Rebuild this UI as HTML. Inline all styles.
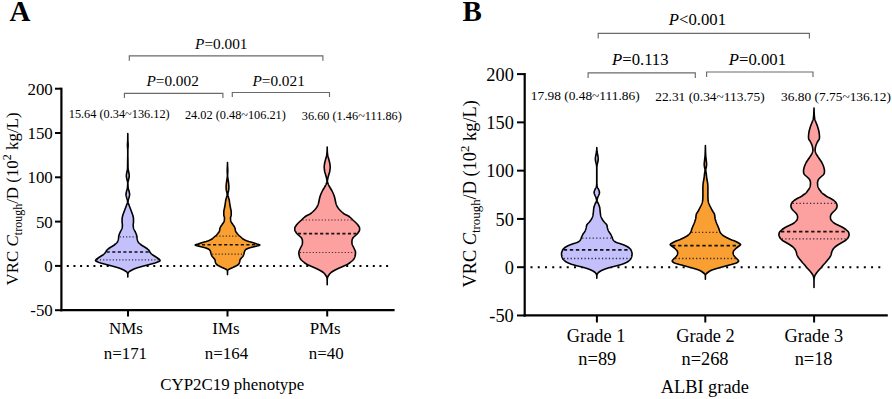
<!DOCTYPE html>
<html><head><meta charset="utf-8"><style>
html,body{margin:0;padding:0;background:#fff;}
body{width:892px;height:399px;overflow:hidden;}
svg{display:block;font-family:"Liberation Serif", serif;}
</style></head><body>
<svg width="892" height="399" viewBox="0 0 892 399">
<rect width="892" height="399" fill="#fff"/>
<line x1="66.80" y1="265.90" x2="388.10" y2="265.90" stroke="#000" stroke-width="2.0" stroke-dasharray="2.0 4.652"/><line x1="530.50" y1="267.30" x2="880.30" y2="267.30" stroke="#000" stroke-width="2.0" stroke-dasharray="2.0 5.246"/>
<path d="M127.80 133.50 L127.81 134.00 L127.82 134.50 L127.82 135.00 L127.83 135.50 L127.84 136.00 L127.84 136.50 L127.85 137.00 L127.86 137.50 L127.86 138.00 L127.86 138.50 L127.87 139.00 L127.87 139.50 L127.88 140.00 L127.89 140.50 L127.92 141.00 L127.95 141.50 L127.99 142.00 L128.02 142.50 L128.06 143.00 L128.10 143.50 L128.12 144.00 L128.14 144.50 L128.15 145.00 L128.14 145.50 L128.12 146.00 L128.10 146.50 L128.06 147.00 L128.02 147.50 L127.98 148.00 L127.95 148.50 L127.91 149.00 L127.89 149.50 L127.88 150.00 L127.87 150.50 L127.87 151.00 L127.87 151.50 L127.86 152.00 L127.86 152.50 L127.86 153.00 L127.85 153.50 L127.85 154.00 L127.85 154.50 L127.85 155.00 L127.85 155.50 L127.86 156.00 L127.87 156.50 L127.88 157.00 L127.89 157.50 L127.91 158.00 L127.92 158.50 L127.93 159.00 L127.94 159.50 L127.95 160.00 L127.96 160.50 L127.96 161.00 L127.97 161.50 L127.97 162.00 L127.97 162.50 L127.98 163.00 L127.98 163.50 L127.99 164.00 L127.99 164.50 L128.00 165.00 L128.01 165.50 L128.02 166.00 L128.02 166.50 L128.03 167.00 L128.05 167.50 L128.06 168.00 L128.08 168.50 L128.10 169.00 L128.15 169.50 L128.23 170.00 L128.34 170.50 L128.46 171.00 L128.59 171.50 L128.71 172.00 L128.80 172.50 L128.88 173.00 L128.97 173.50 L129.05 174.00 L129.13 174.50 L129.19 175.00 L129.23 175.50 L129.25 176.00 L129.23 176.50 L129.16 177.00 L129.06 177.50 L128.95 178.00 L128.83 178.50 L128.71 179.00 L128.60 179.50 L128.49 180.00 L128.36 180.50 L128.23 181.00 L128.10 181.50 L128.00 182.00 L127.93 182.50 L127.90 183.00 L127.90 183.50 L127.92 184.00 L127.93 184.50 L127.96 185.00 L127.99 185.50 L128.02 186.00 L128.06 186.50 L128.10 187.00 L128.15 187.50 L128.20 188.00 L128.27 188.50 L128.39 189.00 L128.53 189.50 L128.68 190.00 L128.84 190.50 L128.98 191.00 L129.10 191.50 L129.21 192.00 L129.32 192.50 L129.43 193.00 L129.52 193.50 L129.58 194.00 L129.60 194.50 L129.57 195.00 L129.49 195.50 L129.38 196.00 L129.25 196.50 L129.12 197.00 L129.00 197.50 L128.87 198.00 L128.72 198.50 L128.55 199.00 L128.39 199.50 L128.24 200.00 L128.11 200.50 L128.03 201.00 L128.00 201.50 L128.04 202.00 L128.13 202.50 L128.27 203.00 L128.45 203.50 L128.64 204.00 L128.83 204.50 L129.00 205.00 L129.17 205.50 L129.35 206.00 L129.53 206.50 L129.72 207.00 L129.92 207.50 L130.12 208.00 L130.31 208.50 L130.50 209.00 L130.69 209.50 L130.88 210.00 L131.07 210.50 L131.26 211.00 L131.45 211.50 L131.64 212.00 L131.82 212.50 L132.00 213.00 L132.18 213.50 L132.37 214.00 L132.55 214.50 L132.72 215.00 L132.87 215.50 L133.00 216.00 L133.11 216.50 L133.23 217.00 L133.33 217.50 L133.42 218.00 L133.48 218.50 L133.50 219.00 L133.50 219.50 L133.50 220.00 L133.50 220.50 L133.50 221.00 L133.50 221.50 L133.50 222.00 L133.48 222.50 L133.42 223.00 L133.35 223.50 L133.28 224.00 L133.22 224.50 L133.20 225.00 L133.21 225.50 L133.24 226.00 L133.29 226.50 L133.35 227.00 L133.42 227.50 L133.50 228.00 L133.62 228.50 L133.81 229.00 L134.04 229.50 L134.29 230.00 L134.55 230.50 L134.80 231.00 L135.05 231.50 L135.32 232.00 L135.57 232.50 L135.80 233.00 L136.00 233.50 L136.20 234.00 L136.38 234.50 L136.55 235.00 L136.69 235.50 L136.80 236.00 L136.88 236.50 L136.95 237.00 L137.00 237.50 L137.05 238.00 L137.12 238.50 L137.20 239.00 L137.30 239.50 L137.43 240.00 L137.58 240.50 L137.76 241.00 L137.96 241.50 L138.20 242.00 L138.53 242.50 L138.97 243.00 L139.51 243.50 L140.12 244.00 L140.76 244.50 L141.40 245.00 L142.09 245.50 L142.88 246.00 L143.71 246.50 L144.55 247.00 L145.36 247.50 L146.10 248.00 L146.80 248.50 L147.48 249.00 L148.10 249.50 L148.60 250.00 L148.98 250.50 L149.28 251.00 L149.58 251.50 L149.90 252.00 L150.26 252.50 L150.62 253.00 L151.03 253.50 L151.50 254.00 L152.10 254.50 L152.84 255.00 L153.63 255.50 L154.40 256.00 L155.17 256.50 L155.95 257.00 L156.71 257.50 L157.40 258.00 L158.09 258.50 L158.81 259.00 L159.45 259.50 L159.92 260.00 L160.10 260.50 L159.75 261.00 L158.86 261.50 L157.66 262.00 L156.40 262.50 L154.97 263.00 L153.21 263.50 L151.29 264.00 L149.40 264.50 L147.52 265.00 L145.56 265.50 L143.63 266.00 L141.80 266.50 L140.04 267.00 L138.31 267.50 L136.70 268.00 L135.30 268.50 L134.09 269.00 L133.00 269.50 L132.01 270.00 L131.10 270.50 L130.22 271.00 L129.41 271.50 L128.80 272.00 L128.38 272.50 L128.10 273.00 L127.93 273.50 L127.85 274.00 L127.83 274.50 L127.82 275.00 L127.81 275.50 L127.80 276.00 L127.80 276.50 L127.80 277.00 L127.80 276.50 L127.80 276.00 L127.79 275.50 L127.78 275.00 L127.77 274.50 L127.75 274.00 L127.67 273.50 L127.50 273.00 L127.22 272.50 L126.80 272.00 L126.19 271.50 L125.38 271.00 L124.50 270.50 L123.59 270.00 L122.60 269.50 L121.51 269.00 L120.30 268.50 L118.90 268.00 L117.29 267.50 L115.56 267.00 L113.80 266.50 L111.97 266.00 L110.04 265.50 L108.08 265.00 L106.20 264.50 L104.31 264.00 L102.39 263.50 L100.63 263.00 L99.20 262.50 L97.94 262.00 L96.74 261.50 L95.85 261.00 L95.50 260.50 L95.68 260.00 L96.15 259.50 L96.79 259.00 L97.51 258.50 L98.20 258.00 L98.89 257.50 L99.65 257.00 L100.43 256.50 L101.20 256.00 L101.97 255.50 L102.76 255.00 L103.50 254.50 L104.10 254.00 L104.57 253.50 L104.98 253.00 L105.34 252.50 L105.70 252.00 L106.02 251.50 L106.32 251.00 L106.62 250.50 L107.00 250.00 L107.50 249.50 L108.12 249.00 L108.80 248.50 L109.50 248.00 L110.24 247.50 L111.05 247.00 L111.89 246.50 L112.72 246.00 L113.51 245.50 L114.20 245.00 L114.84 244.50 L115.48 244.00 L116.09 243.50 L116.63 243.00 L117.07 242.50 L117.40 242.00 L117.64 241.50 L117.84 241.00 L118.02 240.50 L118.17 240.00 L118.30 239.50 L118.40 239.00 L118.48 238.50 L118.55 238.00 L118.60 237.50 L118.65 237.00 L118.72 236.50 L118.80 236.00 L118.91 235.50 L119.05 235.00 L119.22 234.50 L119.40 234.00 L119.60 233.50 L119.80 233.00 L120.03 232.50 L120.28 232.00 L120.55 231.50 L120.80 231.00 L121.05 230.50 L121.31 230.00 L121.56 229.50 L121.79 229.00 L121.98 228.50 L122.10 228.00 L122.18 227.50 L122.25 227.00 L122.31 226.50 L122.36 226.00 L122.39 225.50 L122.40 225.00 L122.38 224.50 L122.32 224.00 L122.25 223.50 L122.18 223.00 L122.12 222.50 L122.10 222.00 L122.10 221.50 L122.10 221.00 L122.10 220.50 L122.10 220.00 L122.10 219.50 L122.10 219.00 L122.12 218.50 L122.18 218.00 L122.27 217.50 L122.37 217.00 L122.49 216.50 L122.60 216.00 L122.73 215.50 L122.88 215.00 L123.05 214.50 L123.23 214.00 L123.42 213.50 L123.60 213.00 L123.78 212.50 L123.96 212.00 L124.15 211.50 L124.34 211.00 L124.53 210.50 L124.72 210.00 L124.91 209.50 L125.10 209.00 L125.29 208.50 L125.48 208.00 L125.68 207.50 L125.88 207.00 L126.07 206.50 L126.25 206.00 L126.43 205.50 L126.60 205.00 L126.77 204.50 L126.96 204.00 L127.15 203.50 L127.33 203.00 L127.47 202.50 L127.56 202.00 L127.60 201.50 L127.57 201.00 L127.49 200.50 L127.36 200.00 L127.21 199.50 L127.05 199.00 L126.88 198.50 L126.73 198.00 L126.60 197.50 L126.48 197.00 L126.35 196.50 L126.22 196.00 L126.11 195.50 L126.03 195.00 L126.00 194.50 L126.02 194.00 L126.08 193.50 L126.17 193.00 L126.28 192.50 L126.39 192.00 L126.50 191.50 L126.62 191.00 L126.76 190.50 L126.92 190.00 L127.07 189.50 L127.21 189.00 L127.33 188.50 L127.40 188.00 L127.45 187.50 L127.50 187.00 L127.54 186.50 L127.58 186.00 L127.61 185.50 L127.64 185.00 L127.67 184.50 L127.68 184.00 L127.70 183.50 L127.70 183.00 L127.67 182.50 L127.60 182.00 L127.50 181.50 L127.37 181.00 L127.24 180.50 L127.11 180.00 L127.00 179.50 L126.89 179.00 L126.77 178.50 L126.65 178.00 L126.54 177.50 L126.44 177.00 L126.37 176.50 L126.35 176.00 L126.37 175.50 L126.41 175.00 L126.47 174.50 L126.55 174.00 L126.63 173.50 L126.72 173.00 L126.80 172.50 L126.89 172.00 L127.01 171.50 L127.14 171.00 L127.26 170.50 L127.37 170.00 L127.45 169.50 L127.50 169.00 L127.52 168.50 L127.54 168.00 L127.55 167.50 L127.57 167.00 L127.58 166.50 L127.58 166.00 L127.59 165.50 L127.60 165.00 L127.61 164.50 L127.61 164.00 L127.62 163.50 L127.62 163.00 L127.63 162.50 L127.63 162.00 L127.63 161.50 L127.64 161.00 L127.64 160.50 L127.65 160.00 L127.66 159.50 L127.67 159.00 L127.68 158.50 L127.69 158.00 L127.71 157.50 L127.72 157.00 L127.73 156.50 L127.74 156.00 L127.75 155.50 L127.75 155.00 L127.75 154.50 L127.75 154.00 L127.75 153.50 L127.74 153.00 L127.74 152.50 L127.74 152.00 L127.73 151.50 L127.73 151.00 L127.73 150.50 L127.72 150.00 L127.71 149.50 L127.69 149.00 L127.65 148.50 L127.62 148.00 L127.58 147.50 L127.54 147.00 L127.50 146.50 L127.48 146.00 L127.46 145.50 L127.45 145.00 L127.46 144.50 L127.48 144.00 L127.50 143.50 L127.54 143.00 L127.58 142.50 L127.61 142.00 L127.65 141.50 L127.68 141.00 L127.71 140.50 L127.72 140.00 L127.73 139.50 L127.73 139.00 L127.74 138.50 L127.74 138.00 L127.74 137.50 L127.75 137.00 L127.76 136.50 L127.76 136.00 L127.77 135.50 L127.78 135.00 L127.78 134.50 L127.79 134.00Z" fill="#c3c0fc" stroke="none"/>
<line x1="119.68" y1="236.80" x2="135.92" y2="236.80" stroke="#1c1c30" stroke-opacity="0.9" stroke-width="1.20" stroke-dasharray="1.15 2.05"/>
<line x1="106.70" y1="252.00" x2="148.90" y2="252.00" stroke="#111" stroke-width="1.60" stroke-dasharray="3.10 2.45"/>
<line x1="96.75" y1="259.90" x2="158.85" y2="259.90" stroke="#1c1c30" stroke-opacity="0.9" stroke-width="1.20" stroke-dasharray="1.15 2.05"/>
<path d="M127.80 133.50 L127.81 134.00 L127.82 134.50 L127.82 135.00 L127.83 135.50 L127.84 136.00 L127.84 136.50 L127.85 137.00 L127.86 137.50 L127.86 138.00 L127.86 138.50 L127.87 139.00 L127.87 139.50 L127.88 140.00 L127.89 140.50 L127.92 141.00 L127.95 141.50 L127.99 142.00 L128.02 142.50 L128.06 143.00 L128.10 143.50 L128.12 144.00 L128.14 144.50 L128.15 145.00 L128.14 145.50 L128.12 146.00 L128.10 146.50 L128.06 147.00 L128.02 147.50 L127.98 148.00 L127.95 148.50 L127.91 149.00 L127.89 149.50 L127.88 150.00 L127.87 150.50 L127.87 151.00 L127.87 151.50 L127.86 152.00 L127.86 152.50 L127.86 153.00 L127.85 153.50 L127.85 154.00 L127.85 154.50 L127.85 155.00 L127.85 155.50 L127.86 156.00 L127.87 156.50 L127.88 157.00 L127.89 157.50 L127.91 158.00 L127.92 158.50 L127.93 159.00 L127.94 159.50 L127.95 160.00 L127.96 160.50 L127.96 161.00 L127.97 161.50 L127.97 162.00 L127.97 162.50 L127.98 163.00 L127.98 163.50 L127.99 164.00 L127.99 164.50 L128.00 165.00 L128.01 165.50 L128.02 166.00 L128.02 166.50 L128.03 167.00 L128.05 167.50 L128.06 168.00 L128.08 168.50 L128.10 169.00 L128.15 169.50 L128.23 170.00 L128.34 170.50 L128.46 171.00 L128.59 171.50 L128.71 172.00 L128.80 172.50 L128.88 173.00 L128.97 173.50 L129.05 174.00 L129.13 174.50 L129.19 175.00 L129.23 175.50 L129.25 176.00 L129.23 176.50 L129.16 177.00 L129.06 177.50 L128.95 178.00 L128.83 178.50 L128.71 179.00 L128.60 179.50 L128.49 180.00 L128.36 180.50 L128.23 181.00 L128.10 181.50 L128.00 182.00 L127.93 182.50 L127.90 183.00 L127.90 183.50 L127.92 184.00 L127.93 184.50 L127.96 185.00 L127.99 185.50 L128.02 186.00 L128.06 186.50 L128.10 187.00 L128.15 187.50 L128.20 188.00 L128.27 188.50 L128.39 189.00 L128.53 189.50 L128.68 190.00 L128.84 190.50 L128.98 191.00 L129.10 191.50 L129.21 192.00 L129.32 192.50 L129.43 193.00 L129.52 193.50 L129.58 194.00 L129.60 194.50 L129.57 195.00 L129.49 195.50 L129.38 196.00 L129.25 196.50 L129.12 197.00 L129.00 197.50 L128.87 198.00 L128.72 198.50 L128.55 199.00 L128.39 199.50 L128.24 200.00 L128.11 200.50 L128.03 201.00 L128.00 201.50 L128.04 202.00 L128.13 202.50 L128.27 203.00 L128.45 203.50 L128.64 204.00 L128.83 204.50 L129.00 205.00 L129.17 205.50 L129.35 206.00 L129.53 206.50 L129.72 207.00 L129.92 207.50 L130.12 208.00 L130.31 208.50 L130.50 209.00 L130.69 209.50 L130.88 210.00 L131.07 210.50 L131.26 211.00 L131.45 211.50 L131.64 212.00 L131.82 212.50 L132.00 213.00 L132.18 213.50 L132.37 214.00 L132.55 214.50 L132.72 215.00 L132.87 215.50 L133.00 216.00 L133.11 216.50 L133.23 217.00 L133.33 217.50 L133.42 218.00 L133.48 218.50 L133.50 219.00 L133.50 219.50 L133.50 220.00 L133.50 220.50 L133.50 221.00 L133.50 221.50 L133.50 222.00 L133.48 222.50 L133.42 223.00 L133.35 223.50 L133.28 224.00 L133.22 224.50 L133.20 225.00 L133.21 225.50 L133.24 226.00 L133.29 226.50 L133.35 227.00 L133.42 227.50 L133.50 228.00 L133.62 228.50 L133.81 229.00 L134.04 229.50 L134.29 230.00 L134.55 230.50 L134.80 231.00 L135.05 231.50 L135.32 232.00 L135.57 232.50 L135.80 233.00 L136.00 233.50 L136.20 234.00 L136.38 234.50 L136.55 235.00 L136.69 235.50 L136.80 236.00 L136.88 236.50 L136.95 237.00 L137.00 237.50 L137.05 238.00 L137.12 238.50 L137.20 239.00 L137.30 239.50 L137.43 240.00 L137.58 240.50 L137.76 241.00 L137.96 241.50 L138.20 242.00 L138.53 242.50 L138.97 243.00 L139.51 243.50 L140.12 244.00 L140.76 244.50 L141.40 245.00 L142.09 245.50 L142.88 246.00 L143.71 246.50 L144.55 247.00 L145.36 247.50 L146.10 248.00 L146.80 248.50 L147.48 249.00 L148.10 249.50 L148.60 250.00 L148.98 250.50 L149.28 251.00 L149.58 251.50 L149.90 252.00 L150.26 252.50 L150.62 253.00 L151.03 253.50 L151.50 254.00 L152.10 254.50 L152.84 255.00 L153.63 255.50 L154.40 256.00 L155.17 256.50 L155.95 257.00 L156.71 257.50 L157.40 258.00 L158.09 258.50 L158.81 259.00 L159.45 259.50 L159.92 260.00 L160.10 260.50 L159.75 261.00 L158.86 261.50 L157.66 262.00 L156.40 262.50 L154.97 263.00 L153.21 263.50 L151.29 264.00 L149.40 264.50 L147.52 265.00 L145.56 265.50 L143.63 266.00 L141.80 266.50 L140.04 267.00 L138.31 267.50 L136.70 268.00 L135.30 268.50 L134.09 269.00 L133.00 269.50 L132.01 270.00 L131.10 270.50 L130.22 271.00 L129.41 271.50 L128.80 272.00 L128.38 272.50 L128.10 273.00 L127.93 273.50 L127.85 274.00 L127.83 274.50 L127.82 275.00 L127.81 275.50 L127.80 276.00 L127.80 276.50 L127.80 277.00 L127.80 276.50 L127.80 276.00 L127.79 275.50 L127.78 275.00 L127.77 274.50 L127.75 274.00 L127.67 273.50 L127.50 273.00 L127.22 272.50 L126.80 272.00 L126.19 271.50 L125.38 271.00 L124.50 270.50 L123.59 270.00 L122.60 269.50 L121.51 269.00 L120.30 268.50 L118.90 268.00 L117.29 267.50 L115.56 267.00 L113.80 266.50 L111.97 266.00 L110.04 265.50 L108.08 265.00 L106.20 264.50 L104.31 264.00 L102.39 263.50 L100.63 263.00 L99.20 262.50 L97.94 262.00 L96.74 261.50 L95.85 261.00 L95.50 260.50 L95.68 260.00 L96.15 259.50 L96.79 259.00 L97.51 258.50 L98.20 258.00 L98.89 257.50 L99.65 257.00 L100.43 256.50 L101.20 256.00 L101.97 255.50 L102.76 255.00 L103.50 254.50 L104.10 254.00 L104.57 253.50 L104.98 253.00 L105.34 252.50 L105.70 252.00 L106.02 251.50 L106.32 251.00 L106.62 250.50 L107.00 250.00 L107.50 249.50 L108.12 249.00 L108.80 248.50 L109.50 248.00 L110.24 247.50 L111.05 247.00 L111.89 246.50 L112.72 246.00 L113.51 245.50 L114.20 245.00 L114.84 244.50 L115.48 244.00 L116.09 243.50 L116.63 243.00 L117.07 242.50 L117.40 242.00 L117.64 241.50 L117.84 241.00 L118.02 240.50 L118.17 240.00 L118.30 239.50 L118.40 239.00 L118.48 238.50 L118.55 238.00 L118.60 237.50 L118.65 237.00 L118.72 236.50 L118.80 236.00 L118.91 235.50 L119.05 235.00 L119.22 234.50 L119.40 234.00 L119.60 233.50 L119.80 233.00 L120.03 232.50 L120.28 232.00 L120.55 231.50 L120.80 231.00 L121.05 230.50 L121.31 230.00 L121.56 229.50 L121.79 229.00 L121.98 228.50 L122.10 228.00 L122.18 227.50 L122.25 227.00 L122.31 226.50 L122.36 226.00 L122.39 225.50 L122.40 225.00 L122.38 224.50 L122.32 224.00 L122.25 223.50 L122.18 223.00 L122.12 222.50 L122.10 222.00 L122.10 221.50 L122.10 221.00 L122.10 220.50 L122.10 220.00 L122.10 219.50 L122.10 219.00 L122.12 218.50 L122.18 218.00 L122.27 217.50 L122.37 217.00 L122.49 216.50 L122.60 216.00 L122.73 215.50 L122.88 215.00 L123.05 214.50 L123.23 214.00 L123.42 213.50 L123.60 213.00 L123.78 212.50 L123.96 212.00 L124.15 211.50 L124.34 211.00 L124.53 210.50 L124.72 210.00 L124.91 209.50 L125.10 209.00 L125.29 208.50 L125.48 208.00 L125.68 207.50 L125.88 207.00 L126.07 206.50 L126.25 206.00 L126.43 205.50 L126.60 205.00 L126.77 204.50 L126.96 204.00 L127.15 203.50 L127.33 203.00 L127.47 202.50 L127.56 202.00 L127.60 201.50 L127.57 201.00 L127.49 200.50 L127.36 200.00 L127.21 199.50 L127.05 199.00 L126.88 198.50 L126.73 198.00 L126.60 197.50 L126.48 197.00 L126.35 196.50 L126.22 196.00 L126.11 195.50 L126.03 195.00 L126.00 194.50 L126.02 194.00 L126.08 193.50 L126.17 193.00 L126.28 192.50 L126.39 192.00 L126.50 191.50 L126.62 191.00 L126.76 190.50 L126.92 190.00 L127.07 189.50 L127.21 189.00 L127.33 188.50 L127.40 188.00 L127.45 187.50 L127.50 187.00 L127.54 186.50 L127.58 186.00 L127.61 185.50 L127.64 185.00 L127.67 184.50 L127.68 184.00 L127.70 183.50 L127.70 183.00 L127.67 182.50 L127.60 182.00 L127.50 181.50 L127.37 181.00 L127.24 180.50 L127.11 180.00 L127.00 179.50 L126.89 179.00 L126.77 178.50 L126.65 178.00 L126.54 177.50 L126.44 177.00 L126.37 176.50 L126.35 176.00 L126.37 175.50 L126.41 175.00 L126.47 174.50 L126.55 174.00 L126.63 173.50 L126.72 173.00 L126.80 172.50 L126.89 172.00 L127.01 171.50 L127.14 171.00 L127.26 170.50 L127.37 170.00 L127.45 169.50 L127.50 169.00 L127.52 168.50 L127.54 168.00 L127.55 167.50 L127.57 167.00 L127.58 166.50 L127.58 166.00 L127.59 165.50 L127.60 165.00 L127.61 164.50 L127.61 164.00 L127.62 163.50 L127.62 163.00 L127.63 162.50 L127.63 162.00 L127.63 161.50 L127.64 161.00 L127.64 160.50 L127.65 160.00 L127.66 159.50 L127.67 159.00 L127.68 158.50 L127.69 158.00 L127.71 157.50 L127.72 157.00 L127.73 156.50 L127.74 156.00 L127.75 155.50 L127.75 155.00 L127.75 154.50 L127.75 154.00 L127.75 153.50 L127.74 153.00 L127.74 152.50 L127.74 152.00 L127.73 151.50 L127.73 151.00 L127.73 150.50 L127.72 150.00 L127.71 149.50 L127.69 149.00 L127.65 148.50 L127.62 148.00 L127.58 147.50 L127.54 147.00 L127.50 146.50 L127.48 146.00 L127.46 145.50 L127.45 145.00 L127.46 144.50 L127.48 144.00 L127.50 143.50 L127.54 143.00 L127.58 142.50 L127.61 142.00 L127.65 141.50 L127.68 141.00 L127.71 140.50 L127.72 140.00 L127.73 139.50 L127.73 139.00 L127.74 138.50 L127.74 138.00 L127.74 137.50 L127.75 137.00 L127.76 136.50 L127.76 136.00 L127.77 135.50 L127.78 135.00 L127.78 134.50 L127.79 134.00Z" fill="none" stroke="#000" stroke-width="1.6" stroke-linejoin="round"/>
<path d="M227.50 162.50 L227.51 163.00 L227.52 163.50 L227.53 164.00 L227.54 164.50 L227.55 165.00 L227.57 165.50 L227.59 166.00 L227.61 166.50 L227.64 167.00 L227.67 167.50 L227.69 168.00 L227.72 168.50 L227.75 169.00 L227.77 169.50 L227.79 170.00 L227.80 170.50 L227.80 171.00 L227.79 171.50 L227.77 172.00 L227.75 172.50 L227.72 173.00 L227.68 173.50 L227.65 174.00 L227.63 174.50 L227.61 175.00 L227.60 175.50 L227.61 176.00 L227.65 176.50 L227.71 177.00 L227.78 177.50 L227.85 178.00 L227.93 178.50 L228.00 179.00 L228.07 179.50 L228.15 180.00 L228.23 180.50 L228.31 181.00 L228.40 181.50 L228.47 182.00 L228.54 182.50 L228.60 183.00 L228.65 183.50 L228.70 184.00 L228.75 184.50 L228.80 185.00 L228.84 185.50 L228.87 186.00 L228.89 186.50 L228.90 187.00 L228.89 187.50 L228.87 188.00 L228.84 188.50 L228.80 189.00 L228.75 189.50 L228.70 190.00 L228.62 190.50 L228.49 191.00 L228.35 191.50 L228.21 192.00 L228.10 192.50 L228.00 193.00 L227.90 193.50 L227.83 194.00 L227.80 194.50 L227.84 195.00 L227.95 195.50 L228.10 196.00 L228.26 196.50 L228.40 197.00 L228.53 197.50 L228.68 198.00 L228.82 198.50 L228.96 199.00 L229.09 199.50 L229.20 200.00 L229.29 200.50 L229.37 201.00 L229.45 201.50 L229.52 202.00 L229.58 202.50 L229.65 203.00 L229.72 203.50 L229.80 204.00 L229.88 204.50 L229.97 205.00 L230.05 205.50 L230.14 206.00 L230.23 206.50 L230.32 207.00 L230.41 207.50 L230.50 208.00 L230.60 208.50 L230.71 209.00 L230.82 209.50 L230.94 210.00 L231.04 210.50 L231.12 211.00 L231.18 211.50 L231.20 212.00 L231.20 212.50 L231.20 213.00 L231.20 213.50 L231.20 214.00 L231.20 214.50 L231.20 215.00 L231.15 215.50 L231.02 216.00 L230.85 216.50 L230.68 217.00 L230.55 217.50 L230.50 218.00 L230.51 218.50 L230.54 219.00 L230.59 219.50 L230.65 220.00 L230.72 220.50 L230.80 221.00 L230.94 221.50 L231.18 222.00 L231.48 222.50 L231.82 223.00 L232.17 223.50 L232.50 224.00 L232.83 224.50 L233.19 225.00 L233.56 225.50 L233.92 226.00 L234.24 226.50 L234.50 227.00 L234.72 227.50 L234.91 228.00 L235.07 228.50 L235.20 229.00 L235.28 229.50 L235.34 230.00 L235.40 230.50 L235.50 231.00 L235.70 231.50 L236.03 232.00 L236.41 232.50 L236.80 233.00 L237.18 233.50 L237.59 234.00 L238.03 234.50 L238.50 235.00 L239.03 235.50 L239.61 236.00 L240.21 236.50 L240.80 237.00 L241.34 237.50 L241.87 238.00 L242.43 238.50 L243.10 239.00 L243.93 239.50 L244.91 240.00 L246.04 240.50 L247.30 241.00 L248.88 241.50 L250.73 242.00 L252.50 242.50 L254.06 243.00 L255.55 243.50 L257.00 244.00 L258.76 244.50 L259.80 245.00 L258.95 245.50 L257.03 246.00 L255.00 246.50 L252.98 247.00 L250.82 247.50 L249.10 248.00 L247.84 248.50 L246.73 249.00 L245.85 249.50 L245.30 250.00 L244.98 250.50 L244.75 251.00 L244.56 251.50 L244.40 252.00 L244.26 252.50 L244.15 253.00 L244.03 253.50 L243.90 254.00 L243.74 254.50 L243.56 255.00 L243.35 255.50 L243.10 256.00 L242.75 256.50 L242.31 257.00 L241.83 257.50 L241.40 258.00 L240.99 258.50 L240.59 259.00 L240.23 259.50 L240.00 260.00 L239.87 260.50 L239.79 261.00 L239.70 261.50 L239.60 262.00 L239.47 262.50 L239.31 263.00 L239.10 263.50 L238.77 264.00 L238.30 264.50 L237.66 265.00 L236.86 265.50 L235.89 266.00 L234.91 266.50 L233.91 267.00 L232.86 267.50 L231.74 268.00 L230.61 268.50 L229.47 269.00 L228.60 269.50 L228.00 270.00 L227.74 270.50 L227.60 271.00 L227.55 271.50 L227.52 272.00 L227.51 272.50 L227.51 273.00 L227.50 273.50 L227.50 274.00 L227.50 274.50 L227.50 274.60 L227.50 274.50 L227.50 274.00 L227.50 273.50 L227.49 273.00 L227.49 272.50 L227.48 272.00 L227.45 271.50 L227.40 271.00 L227.26 270.50 L227.00 270.00 L226.40 269.50 L225.53 269.00 L224.39 268.50 L223.26 268.00 L222.14 267.50 L221.09 267.00 L220.09 266.50 L219.11 266.00 L218.14 265.50 L217.34 265.00 L216.70 264.50 L216.23 264.00 L215.90 263.50 L215.69 263.00 L215.53 262.50 L215.40 262.00 L215.30 261.50 L215.21 261.00 L215.13 260.50 L215.00 260.00 L214.77 259.50 L214.41 259.00 L214.01 258.50 L213.60 258.00 L213.17 257.50 L212.69 257.00 L212.25 256.50 L211.90 256.00 L211.65 255.50 L211.44 255.00 L211.26 254.50 L211.10 254.00 L210.97 253.50 L210.85 253.00 L210.74 252.50 L210.60 252.00 L210.44 251.50 L210.25 251.00 L210.02 250.50 L209.70 250.00 L209.15 249.50 L208.27 249.00 L207.16 248.50 L205.90 248.00 L204.18 247.50 L202.02 247.00 L200.00 246.50 L197.97 246.00 L196.05 245.50 L195.20 245.00 L196.24 244.50 L198.00 244.00 L199.45 243.50 L200.94 243.00 L202.50 242.50 L204.27 242.00 L206.12 241.50 L207.70 241.00 L208.96 240.50 L210.09 240.00 L211.07 239.50 L211.90 239.00 L212.57 238.50 L213.13 238.00 L213.66 237.50 L214.20 237.00 L214.79 236.50 L215.39 236.00 L215.97 235.50 L216.50 235.00 L216.97 234.50 L217.41 234.00 L217.82 233.50 L218.20 233.00 L218.59 232.50 L218.97 232.00 L219.30 231.50 L219.50 231.00 L219.60 230.50 L219.66 230.00 L219.72 229.50 L219.80 229.00 L219.93 228.50 L220.09 228.00 L220.28 227.50 L220.50 227.00 L220.76 226.50 L221.08 226.00 L221.44 225.50 L221.81 225.00 L222.17 224.50 L222.50 224.00 L222.83 223.50 L223.18 223.00 L223.52 222.50 L223.82 222.00 L224.06 221.50 L224.20 221.00 L224.28 220.50 L224.35 220.00 L224.41 219.50 L224.46 219.00 L224.49 218.50 L224.50 218.00 L224.45 217.50 L224.32 217.00 L224.15 216.50 L223.98 216.00 L223.85 215.50 L223.80 215.00 L223.80 214.50 L223.80 214.00 L223.80 213.50 L223.80 213.00 L223.80 212.50 L223.80 212.00 L223.82 211.50 L223.88 211.00 L223.96 210.50 L224.06 210.00 L224.18 209.50 L224.29 209.00 L224.40 208.50 L224.50 208.00 L224.59 207.50 L224.68 207.00 L224.77 206.50 L224.86 206.00 L224.95 205.50 L225.03 205.00 L225.12 204.50 L225.20 204.00 L225.28 203.50 L225.35 203.00 L225.42 202.50 L225.48 202.00 L225.55 201.50 L225.63 201.00 L225.71 200.50 L225.80 200.00 L225.91 199.50 L226.04 199.00 L226.18 198.50 L226.32 198.00 L226.47 197.50 L226.60 197.00 L226.74 196.50 L226.90 196.00 L227.05 195.50 L227.16 195.00 L227.20 194.50 L227.17 194.00 L227.10 193.50 L227.00 193.00 L226.90 192.50 L226.79 192.00 L226.65 191.50 L226.51 191.00 L226.38 190.50 L226.30 190.00 L226.25 189.50 L226.20 189.00 L226.16 188.50 L226.13 188.00 L226.11 187.50 L226.10 187.00 L226.11 186.50 L226.13 186.00 L226.16 185.50 L226.20 185.00 L226.25 184.50 L226.30 184.00 L226.35 183.50 L226.40 183.00 L226.46 182.50 L226.53 182.00 L226.60 181.50 L226.69 181.00 L226.77 180.50 L226.85 180.00 L226.93 179.50 L227.00 179.00 L227.07 178.50 L227.15 178.00 L227.22 177.50 L227.29 177.00 L227.35 176.50 L227.39 176.00 L227.40 175.50 L227.39 175.00 L227.37 174.50 L227.35 174.00 L227.32 173.50 L227.28 173.00 L227.25 172.50 L227.23 172.00 L227.21 171.50 L227.20 171.00 L227.20 170.50 L227.21 170.00 L227.23 169.50 L227.25 169.00 L227.28 168.50 L227.31 168.00 L227.33 167.50 L227.36 167.00 L227.39 166.50 L227.41 166.00 L227.43 165.50 L227.45 165.00 L227.46 164.50 L227.47 164.00 L227.48 163.50 L227.49 163.00Z" fill="#faa032" stroke="none"/>
<line x1="216.15" y1="236.20" x2="238.85" y2="236.20" stroke="#1c1c30" stroke-opacity="0.9" stroke-width="1.20" stroke-dasharray="1.15 2.05"/>
<line x1="196.40" y1="244.80" x2="258.60" y2="244.80" stroke="#111" stroke-width="1.60" stroke-dasharray="3.10 2.45"/>
<line x1="212.13" y1="254.10" x2="242.87" y2="254.10" stroke="#1c1c30" stroke-opacity="0.9" stroke-width="1.20" stroke-dasharray="1.15 2.05"/>
<path d="M227.50 162.50 L227.51 163.00 L227.52 163.50 L227.53 164.00 L227.54 164.50 L227.55 165.00 L227.57 165.50 L227.59 166.00 L227.61 166.50 L227.64 167.00 L227.67 167.50 L227.69 168.00 L227.72 168.50 L227.75 169.00 L227.77 169.50 L227.79 170.00 L227.80 170.50 L227.80 171.00 L227.79 171.50 L227.77 172.00 L227.75 172.50 L227.72 173.00 L227.68 173.50 L227.65 174.00 L227.63 174.50 L227.61 175.00 L227.60 175.50 L227.61 176.00 L227.65 176.50 L227.71 177.00 L227.78 177.50 L227.85 178.00 L227.93 178.50 L228.00 179.00 L228.07 179.50 L228.15 180.00 L228.23 180.50 L228.31 181.00 L228.40 181.50 L228.47 182.00 L228.54 182.50 L228.60 183.00 L228.65 183.50 L228.70 184.00 L228.75 184.50 L228.80 185.00 L228.84 185.50 L228.87 186.00 L228.89 186.50 L228.90 187.00 L228.89 187.50 L228.87 188.00 L228.84 188.50 L228.80 189.00 L228.75 189.50 L228.70 190.00 L228.62 190.50 L228.49 191.00 L228.35 191.50 L228.21 192.00 L228.10 192.50 L228.00 193.00 L227.90 193.50 L227.83 194.00 L227.80 194.50 L227.84 195.00 L227.95 195.50 L228.10 196.00 L228.26 196.50 L228.40 197.00 L228.53 197.50 L228.68 198.00 L228.82 198.50 L228.96 199.00 L229.09 199.50 L229.20 200.00 L229.29 200.50 L229.37 201.00 L229.45 201.50 L229.52 202.00 L229.58 202.50 L229.65 203.00 L229.72 203.50 L229.80 204.00 L229.88 204.50 L229.97 205.00 L230.05 205.50 L230.14 206.00 L230.23 206.50 L230.32 207.00 L230.41 207.50 L230.50 208.00 L230.60 208.50 L230.71 209.00 L230.82 209.50 L230.94 210.00 L231.04 210.50 L231.12 211.00 L231.18 211.50 L231.20 212.00 L231.20 212.50 L231.20 213.00 L231.20 213.50 L231.20 214.00 L231.20 214.50 L231.20 215.00 L231.15 215.50 L231.02 216.00 L230.85 216.50 L230.68 217.00 L230.55 217.50 L230.50 218.00 L230.51 218.50 L230.54 219.00 L230.59 219.50 L230.65 220.00 L230.72 220.50 L230.80 221.00 L230.94 221.50 L231.18 222.00 L231.48 222.50 L231.82 223.00 L232.17 223.50 L232.50 224.00 L232.83 224.50 L233.19 225.00 L233.56 225.50 L233.92 226.00 L234.24 226.50 L234.50 227.00 L234.72 227.50 L234.91 228.00 L235.07 228.50 L235.20 229.00 L235.28 229.50 L235.34 230.00 L235.40 230.50 L235.50 231.00 L235.70 231.50 L236.03 232.00 L236.41 232.50 L236.80 233.00 L237.18 233.50 L237.59 234.00 L238.03 234.50 L238.50 235.00 L239.03 235.50 L239.61 236.00 L240.21 236.50 L240.80 237.00 L241.34 237.50 L241.87 238.00 L242.43 238.50 L243.10 239.00 L243.93 239.50 L244.91 240.00 L246.04 240.50 L247.30 241.00 L248.88 241.50 L250.73 242.00 L252.50 242.50 L254.06 243.00 L255.55 243.50 L257.00 244.00 L258.76 244.50 L259.80 245.00 L258.95 245.50 L257.03 246.00 L255.00 246.50 L252.98 247.00 L250.82 247.50 L249.10 248.00 L247.84 248.50 L246.73 249.00 L245.85 249.50 L245.30 250.00 L244.98 250.50 L244.75 251.00 L244.56 251.50 L244.40 252.00 L244.26 252.50 L244.15 253.00 L244.03 253.50 L243.90 254.00 L243.74 254.50 L243.56 255.00 L243.35 255.50 L243.10 256.00 L242.75 256.50 L242.31 257.00 L241.83 257.50 L241.40 258.00 L240.99 258.50 L240.59 259.00 L240.23 259.50 L240.00 260.00 L239.87 260.50 L239.79 261.00 L239.70 261.50 L239.60 262.00 L239.47 262.50 L239.31 263.00 L239.10 263.50 L238.77 264.00 L238.30 264.50 L237.66 265.00 L236.86 265.50 L235.89 266.00 L234.91 266.50 L233.91 267.00 L232.86 267.50 L231.74 268.00 L230.61 268.50 L229.47 269.00 L228.60 269.50 L228.00 270.00 L227.74 270.50 L227.60 271.00 L227.55 271.50 L227.52 272.00 L227.51 272.50 L227.51 273.00 L227.50 273.50 L227.50 274.00 L227.50 274.50 L227.50 274.60 L227.50 274.50 L227.50 274.00 L227.50 273.50 L227.49 273.00 L227.49 272.50 L227.48 272.00 L227.45 271.50 L227.40 271.00 L227.26 270.50 L227.00 270.00 L226.40 269.50 L225.53 269.00 L224.39 268.50 L223.26 268.00 L222.14 267.50 L221.09 267.00 L220.09 266.50 L219.11 266.00 L218.14 265.50 L217.34 265.00 L216.70 264.50 L216.23 264.00 L215.90 263.50 L215.69 263.00 L215.53 262.50 L215.40 262.00 L215.30 261.50 L215.21 261.00 L215.13 260.50 L215.00 260.00 L214.77 259.50 L214.41 259.00 L214.01 258.50 L213.60 258.00 L213.17 257.50 L212.69 257.00 L212.25 256.50 L211.90 256.00 L211.65 255.50 L211.44 255.00 L211.26 254.50 L211.10 254.00 L210.97 253.50 L210.85 253.00 L210.74 252.50 L210.60 252.00 L210.44 251.50 L210.25 251.00 L210.02 250.50 L209.70 250.00 L209.15 249.50 L208.27 249.00 L207.16 248.50 L205.90 248.00 L204.18 247.50 L202.02 247.00 L200.00 246.50 L197.97 246.00 L196.05 245.50 L195.20 245.00 L196.24 244.50 L198.00 244.00 L199.45 243.50 L200.94 243.00 L202.50 242.50 L204.27 242.00 L206.12 241.50 L207.70 241.00 L208.96 240.50 L210.09 240.00 L211.07 239.50 L211.90 239.00 L212.57 238.50 L213.13 238.00 L213.66 237.50 L214.20 237.00 L214.79 236.50 L215.39 236.00 L215.97 235.50 L216.50 235.00 L216.97 234.50 L217.41 234.00 L217.82 233.50 L218.20 233.00 L218.59 232.50 L218.97 232.00 L219.30 231.50 L219.50 231.00 L219.60 230.50 L219.66 230.00 L219.72 229.50 L219.80 229.00 L219.93 228.50 L220.09 228.00 L220.28 227.50 L220.50 227.00 L220.76 226.50 L221.08 226.00 L221.44 225.50 L221.81 225.00 L222.17 224.50 L222.50 224.00 L222.83 223.50 L223.18 223.00 L223.52 222.50 L223.82 222.00 L224.06 221.50 L224.20 221.00 L224.28 220.50 L224.35 220.00 L224.41 219.50 L224.46 219.00 L224.49 218.50 L224.50 218.00 L224.45 217.50 L224.32 217.00 L224.15 216.50 L223.98 216.00 L223.85 215.50 L223.80 215.00 L223.80 214.50 L223.80 214.00 L223.80 213.50 L223.80 213.00 L223.80 212.50 L223.80 212.00 L223.82 211.50 L223.88 211.00 L223.96 210.50 L224.06 210.00 L224.18 209.50 L224.29 209.00 L224.40 208.50 L224.50 208.00 L224.59 207.50 L224.68 207.00 L224.77 206.50 L224.86 206.00 L224.95 205.50 L225.03 205.00 L225.12 204.50 L225.20 204.00 L225.28 203.50 L225.35 203.00 L225.42 202.50 L225.48 202.00 L225.55 201.50 L225.63 201.00 L225.71 200.50 L225.80 200.00 L225.91 199.50 L226.04 199.00 L226.18 198.50 L226.32 198.00 L226.47 197.50 L226.60 197.00 L226.74 196.50 L226.90 196.00 L227.05 195.50 L227.16 195.00 L227.20 194.50 L227.17 194.00 L227.10 193.50 L227.00 193.00 L226.90 192.50 L226.79 192.00 L226.65 191.50 L226.51 191.00 L226.38 190.50 L226.30 190.00 L226.25 189.50 L226.20 189.00 L226.16 188.50 L226.13 188.00 L226.11 187.50 L226.10 187.00 L226.11 186.50 L226.13 186.00 L226.16 185.50 L226.20 185.00 L226.25 184.50 L226.30 184.00 L226.35 183.50 L226.40 183.00 L226.46 182.50 L226.53 182.00 L226.60 181.50 L226.69 181.00 L226.77 180.50 L226.85 180.00 L226.93 179.50 L227.00 179.00 L227.07 178.50 L227.15 178.00 L227.22 177.50 L227.29 177.00 L227.35 176.50 L227.39 176.00 L227.40 175.50 L227.39 175.00 L227.37 174.50 L227.35 174.00 L227.32 173.50 L227.28 173.00 L227.25 172.50 L227.23 172.00 L227.21 171.50 L227.20 171.00 L227.20 170.50 L227.21 170.00 L227.23 169.50 L227.25 169.00 L227.28 168.50 L227.31 168.00 L227.33 167.50 L227.36 167.00 L227.39 166.50 L227.41 166.00 L227.43 165.50 L227.45 165.00 L227.46 164.50 L227.47 164.00 L227.48 163.50 L227.49 163.00Z" fill="none" stroke="#000" stroke-width="1.6" stroke-linejoin="round"/>
<path d="M327.20 147.00 L327.20 147.50 L327.21 148.00 L327.22 148.50 L327.23 149.00 L327.24 149.50 L327.26 150.00 L327.28 150.50 L327.30 151.00 L327.32 151.50 L327.36 152.00 L327.40 152.50 L327.45 153.00 L327.50 153.50 L327.56 154.00 L327.63 154.50 L327.70 155.00 L327.78 155.50 L327.89 156.00 L328.01 156.50 L328.15 157.00 L328.29 157.50 L328.43 158.00 L328.57 158.50 L328.70 159.00 L328.83 159.50 L328.97 160.00 L329.10 160.50 L329.24 161.00 L329.37 161.50 L329.50 162.00 L329.61 162.50 L329.70 163.00 L329.79 163.50 L329.87 164.00 L329.96 164.50 L330.03 165.00 L330.10 165.50 L330.15 166.00 L330.19 166.50 L330.20 167.00 L330.19 167.50 L330.16 168.00 L330.12 168.50 L330.07 169.00 L330.01 169.50 L329.94 170.00 L329.87 170.50 L329.80 171.00 L329.71 171.50 L329.60 172.00 L329.46 172.50 L329.31 173.00 L329.15 173.50 L328.99 174.00 L328.84 174.50 L328.70 175.00 L328.56 175.50 L328.43 176.00 L328.29 176.50 L328.15 177.00 L328.02 177.50 L327.91 178.00 L327.80 178.50 L327.70 179.00 L327.59 179.50 L327.49 180.00 L327.43 180.50 L327.40 181.00 L327.44 181.50 L327.53 182.00 L327.67 182.50 L327.84 183.00 L328.02 183.50 L328.20 184.00 L328.39 184.50 L328.62 185.00 L328.88 185.50 L329.15 186.00 L329.42 186.50 L329.70 187.00 L329.98 187.50 L330.29 188.00 L330.60 188.50 L330.91 189.00 L331.22 189.50 L331.50 190.00 L331.77 190.50 L332.03 191.00 L332.29 191.50 L332.53 192.00 L332.77 192.50 L333.00 193.00 L333.22 193.50 L333.44 194.00 L333.65 194.50 L333.85 195.00 L334.03 195.50 L334.20 196.00 L334.35 196.50 L334.50 197.00 L334.63 197.50 L334.76 198.00 L334.88 198.50 L335.00 199.00 L335.11 199.50 L335.20 200.00 L335.30 200.50 L335.39 201.00 L335.49 201.50 L335.60 202.00 L335.72 202.50 L335.85 203.00 L335.99 203.50 L336.15 204.00 L336.31 204.50 L336.50 205.00 L336.71 205.50 L336.96 206.00 L337.24 206.50 L337.54 207.00 L337.86 207.50 L338.20 208.00 L338.56 208.50 L338.95 209.00 L339.38 209.50 L339.83 210.00 L340.31 210.50 L340.80 211.00 L341.31 211.50 L341.85 212.00 L342.41 212.50 L343.02 213.00 L343.68 213.50 L344.40 214.00 L345.29 214.50 L346.34 215.00 L347.39 215.50 L348.30 216.00 L349.04 216.50 L349.71 217.00 L350.32 217.50 L350.90 218.00 L351.43 218.50 L351.92 219.00 L352.40 219.50 L352.90 220.00 L353.44 220.50 L354.00 221.00 L354.56 221.50 L355.10 222.00 L355.63 222.50 L356.15 223.00 L356.64 223.50 L357.10 224.00 L357.52 224.50 L357.91 225.00 L358.28 225.50 L358.60 226.00 L358.93 226.50 L359.25 227.00 L359.50 227.50 L359.60 228.00 L359.60 228.50 L359.60 229.00 L359.60 229.50 L359.60 230.00 L359.50 230.50 L359.25 231.00 L358.93 231.50 L358.60 232.00 L358.28 232.50 L357.92 233.00 L357.53 233.50 L357.10 234.00 L356.60 234.50 L356.04 235.00 L355.45 235.50 L354.90 236.00 L354.35 236.50 L353.78 237.00 L353.27 237.50 L352.90 238.00 L352.63 238.50 L352.40 239.00 L352.22 239.50 L352.10 240.00 L352.02 240.50 L351.96 241.00 L351.92 241.50 L351.90 242.00 L351.92 242.50 L351.96 243.00 L352.02 243.50 L352.10 244.00 L352.23 244.50 L352.43 245.00 L352.66 245.50 L352.90 246.00 L353.14 246.50 L353.39 247.00 L353.65 247.50 L353.90 248.00 L354.14 248.50 L354.37 249.00 L354.59 249.50 L354.80 250.00 L355.02 250.50 L355.25 251.00 L355.43 251.50 L355.50 252.00 L355.50 252.50 L355.50 253.00 L355.50 253.50 L355.50 254.00 L355.45 254.50 L355.33 255.00 L355.20 255.50 L355.08 256.00 L354.95 256.50 L354.80 257.00 L354.62 257.50 L354.40 258.00 L354.14 258.50 L353.84 259.00 L353.50 259.50 L353.08 260.00 L352.56 260.50 L351.98 261.00 L351.37 261.50 L350.76 262.00 L350.14 262.50 L349.49 263.00 L348.78 263.50 L348.00 264.00 L347.10 264.50 L346.08 265.00 L344.98 265.50 L343.86 266.00 L342.76 266.50 L341.61 267.00 L340.45 267.50 L339.29 268.00 L338.20 268.50 L337.15 269.00 L336.13 269.50 L335.14 270.00 L334.22 270.50 L333.37 271.00 L332.55 271.50 L331.77 272.00 L331.08 272.50 L330.50 273.00 L330.03 273.50 L329.61 274.00 L329.25 274.50 L328.90 275.00 L328.56 275.50 L328.23 276.00 L327.93 276.50 L327.73 277.00 L327.56 277.50 L327.44 278.00 L327.35 278.50 L327.29 279.00 L327.25 279.50 L327.23 280.00 L327.22 280.50 L327.22 281.00 L327.21 281.50 L327.21 282.00 L327.21 282.50 L327.20 283.00 L327.20 283.50 L327.20 284.00 L327.20 284.50 L327.20 284.70 L327.20 284.50 L327.20 284.00 L327.20 283.50 L327.20 283.00 L327.19 282.50 L327.19 282.00 L327.19 281.50 L327.18 281.00 L327.18 280.50 L327.17 280.00 L327.15 279.50 L327.11 279.00 L327.05 278.50 L326.96 278.00 L326.84 277.50 L326.67 277.00 L326.47 276.50 L326.17 276.00 L325.84 275.50 L325.50 275.00 L325.15 274.50 L324.79 274.00 L324.37 273.50 L323.90 273.00 L323.32 272.50 L322.63 272.00 L321.85 271.50 L321.03 271.00 L320.18 270.50 L319.26 270.00 L318.27 269.50 L317.25 269.00 L316.20 268.50 L315.11 268.00 L313.95 267.50 L312.79 267.00 L311.64 266.50 L310.54 266.00 L309.42 265.50 L308.32 265.00 L307.30 264.50 L306.40 264.00 L305.62 263.50 L304.91 263.00 L304.26 262.50 L303.64 262.00 L303.03 261.50 L302.42 261.00 L301.84 260.50 L301.32 260.00 L300.90 259.50 L300.56 259.00 L300.26 258.50 L300.00 258.00 L299.78 257.50 L299.60 257.00 L299.45 256.50 L299.32 256.00 L299.20 255.50 L299.07 255.00 L298.95 254.50 L298.90 254.00 L298.90 253.50 L298.90 253.00 L298.90 252.50 L298.90 252.00 L298.97 251.50 L299.15 251.00 L299.38 250.50 L299.60 250.00 L299.81 249.50 L300.03 249.00 L300.26 248.50 L300.50 248.00 L300.75 247.50 L301.01 247.00 L301.26 246.50 L301.50 246.00 L301.74 245.50 L301.97 245.00 L302.17 244.50 L302.30 244.00 L302.38 243.50 L302.44 243.00 L302.48 242.50 L302.50 242.00 L302.48 241.50 L302.44 241.00 L302.38 240.50 L302.30 240.00 L302.18 239.50 L302.00 239.00 L301.77 238.50 L301.50 238.00 L301.12 237.50 L300.62 237.00 L300.05 236.50 L299.50 236.00 L298.95 235.50 L298.36 235.00 L297.80 234.50 L297.30 234.00 L296.87 233.50 L296.48 233.00 L296.12 232.50 L295.80 232.00 L295.47 231.50 L295.15 231.00 L294.90 230.50 L294.80 230.00 L294.80 229.50 L294.80 229.00 L294.80 228.50 L294.80 228.00 L294.90 227.50 L295.15 227.00 L295.47 226.50 L295.80 226.00 L296.12 225.50 L296.49 225.00 L296.88 224.50 L297.30 224.00 L297.76 223.50 L298.25 223.00 L298.77 222.50 L299.30 222.00 L299.84 221.50 L300.40 221.00 L300.96 220.50 L301.50 220.00 L302.00 219.50 L302.48 219.00 L302.97 218.50 L303.50 218.00 L304.08 217.50 L304.69 217.00 L305.36 216.50 L306.10 216.00 L307.01 215.50 L308.06 215.00 L309.11 214.50 L310.00 214.00 L310.72 213.50 L311.38 213.00 L311.99 212.50 L312.55 212.00 L313.09 211.50 L313.60 211.00 L314.09 210.50 L314.57 210.00 L315.02 209.50 L315.45 209.00 L315.84 208.50 L316.20 208.00 L316.54 207.50 L316.86 207.00 L317.16 206.50 L317.44 206.00 L317.69 205.50 L317.90 205.00 L318.09 204.50 L318.25 204.00 L318.41 203.50 L318.55 203.00 L318.68 202.50 L318.80 202.00 L318.91 201.50 L319.01 201.00 L319.10 200.50 L319.20 200.00 L319.29 199.50 L319.40 199.00 L319.52 198.50 L319.64 198.00 L319.77 197.50 L319.90 197.00 L320.05 196.50 L320.20 196.00 L320.37 195.50 L320.55 195.00 L320.75 194.50 L320.96 194.00 L321.18 193.50 L321.40 193.00 L321.63 192.50 L321.87 192.00 L322.11 191.50 L322.37 191.00 L322.63 190.50 L322.90 190.00 L323.18 189.50 L323.49 189.00 L323.80 188.50 L324.11 188.00 L324.42 187.50 L324.70 187.00 L324.98 186.50 L325.25 186.00 L325.52 185.50 L325.78 185.00 L326.01 184.50 L326.20 184.00 L326.38 183.50 L326.56 183.00 L326.73 182.50 L326.87 182.00 L326.96 181.50 L327.00 181.00 L326.97 180.50 L326.91 180.00 L326.81 179.50 L326.70 179.00 L326.60 178.50 L326.49 178.00 L326.38 177.50 L326.25 177.00 L326.11 176.50 L325.97 176.00 L325.84 175.50 L325.70 175.00 L325.56 174.50 L325.41 174.00 L325.25 173.50 L325.09 173.00 L324.94 172.50 L324.80 172.00 L324.69 171.50 L324.60 171.00 L324.53 170.50 L324.45 170.00 L324.39 169.50 L324.33 169.00 L324.27 168.50 L324.24 168.00 L324.21 167.50 L324.20 167.00 L324.21 166.50 L324.25 166.00 L324.30 165.50 L324.37 165.00 L324.44 164.50 L324.53 164.00 L324.61 163.50 L324.70 163.00 L324.79 162.50 L324.90 162.00 L325.03 161.50 L325.16 161.00 L325.30 160.50 L325.43 160.00 L325.57 159.50 L325.70 159.00 L325.83 158.50 L325.97 158.00 L326.11 157.50 L326.25 157.00 L326.39 156.50 L326.51 156.00 L326.62 155.50 L326.70 155.00 L326.77 154.50 L326.84 154.00 L326.90 153.50 L326.95 153.00 L327.00 152.50 L327.04 152.00 L327.08 151.50 L327.10 151.00 L327.12 150.50 L327.14 150.00 L327.16 149.50 L327.17 149.00 L327.18 148.50 L327.19 148.00 L327.20 147.50Z" fill="#fca0a0" stroke="none"/>
<line x1="302.50" y1="220.00" x2="351.90" y2="220.00" stroke="#1c1c30" stroke-opacity="0.9" stroke-width="1.20" stroke-dasharray="1.15 2.05"/>
<line x1="297.95" y1="233.60" x2="356.45" y2="233.60" stroke="#111" stroke-width="1.60" stroke-dasharray="3.10 2.45"/>
<line x1="299.90" y1="252.50" x2="354.50" y2="252.50" stroke="#1c1c30" stroke-opacity="0.9" stroke-width="1.20" stroke-dasharray="1.15 2.05"/>
<path d="M327.20 147.00 L327.20 147.50 L327.21 148.00 L327.22 148.50 L327.23 149.00 L327.24 149.50 L327.26 150.00 L327.28 150.50 L327.30 151.00 L327.32 151.50 L327.36 152.00 L327.40 152.50 L327.45 153.00 L327.50 153.50 L327.56 154.00 L327.63 154.50 L327.70 155.00 L327.78 155.50 L327.89 156.00 L328.01 156.50 L328.15 157.00 L328.29 157.50 L328.43 158.00 L328.57 158.50 L328.70 159.00 L328.83 159.50 L328.97 160.00 L329.10 160.50 L329.24 161.00 L329.37 161.50 L329.50 162.00 L329.61 162.50 L329.70 163.00 L329.79 163.50 L329.87 164.00 L329.96 164.50 L330.03 165.00 L330.10 165.50 L330.15 166.00 L330.19 166.50 L330.20 167.00 L330.19 167.50 L330.16 168.00 L330.12 168.50 L330.07 169.00 L330.01 169.50 L329.94 170.00 L329.87 170.50 L329.80 171.00 L329.71 171.50 L329.60 172.00 L329.46 172.50 L329.31 173.00 L329.15 173.50 L328.99 174.00 L328.84 174.50 L328.70 175.00 L328.56 175.50 L328.43 176.00 L328.29 176.50 L328.15 177.00 L328.02 177.50 L327.91 178.00 L327.80 178.50 L327.70 179.00 L327.59 179.50 L327.49 180.00 L327.43 180.50 L327.40 181.00 L327.44 181.50 L327.53 182.00 L327.67 182.50 L327.84 183.00 L328.02 183.50 L328.20 184.00 L328.39 184.50 L328.62 185.00 L328.88 185.50 L329.15 186.00 L329.42 186.50 L329.70 187.00 L329.98 187.50 L330.29 188.00 L330.60 188.50 L330.91 189.00 L331.22 189.50 L331.50 190.00 L331.77 190.50 L332.03 191.00 L332.29 191.50 L332.53 192.00 L332.77 192.50 L333.00 193.00 L333.22 193.50 L333.44 194.00 L333.65 194.50 L333.85 195.00 L334.03 195.50 L334.20 196.00 L334.35 196.50 L334.50 197.00 L334.63 197.50 L334.76 198.00 L334.88 198.50 L335.00 199.00 L335.11 199.50 L335.20 200.00 L335.30 200.50 L335.39 201.00 L335.49 201.50 L335.60 202.00 L335.72 202.50 L335.85 203.00 L335.99 203.50 L336.15 204.00 L336.31 204.50 L336.50 205.00 L336.71 205.50 L336.96 206.00 L337.24 206.50 L337.54 207.00 L337.86 207.50 L338.20 208.00 L338.56 208.50 L338.95 209.00 L339.38 209.50 L339.83 210.00 L340.31 210.50 L340.80 211.00 L341.31 211.50 L341.85 212.00 L342.41 212.50 L343.02 213.00 L343.68 213.50 L344.40 214.00 L345.29 214.50 L346.34 215.00 L347.39 215.50 L348.30 216.00 L349.04 216.50 L349.71 217.00 L350.32 217.50 L350.90 218.00 L351.43 218.50 L351.92 219.00 L352.40 219.50 L352.90 220.00 L353.44 220.50 L354.00 221.00 L354.56 221.50 L355.10 222.00 L355.63 222.50 L356.15 223.00 L356.64 223.50 L357.10 224.00 L357.52 224.50 L357.91 225.00 L358.28 225.50 L358.60 226.00 L358.93 226.50 L359.25 227.00 L359.50 227.50 L359.60 228.00 L359.60 228.50 L359.60 229.00 L359.60 229.50 L359.60 230.00 L359.50 230.50 L359.25 231.00 L358.93 231.50 L358.60 232.00 L358.28 232.50 L357.92 233.00 L357.53 233.50 L357.10 234.00 L356.60 234.50 L356.04 235.00 L355.45 235.50 L354.90 236.00 L354.35 236.50 L353.78 237.00 L353.27 237.50 L352.90 238.00 L352.63 238.50 L352.40 239.00 L352.22 239.50 L352.10 240.00 L352.02 240.50 L351.96 241.00 L351.92 241.50 L351.90 242.00 L351.92 242.50 L351.96 243.00 L352.02 243.50 L352.10 244.00 L352.23 244.50 L352.43 245.00 L352.66 245.50 L352.90 246.00 L353.14 246.50 L353.39 247.00 L353.65 247.50 L353.90 248.00 L354.14 248.50 L354.37 249.00 L354.59 249.50 L354.80 250.00 L355.02 250.50 L355.25 251.00 L355.43 251.50 L355.50 252.00 L355.50 252.50 L355.50 253.00 L355.50 253.50 L355.50 254.00 L355.45 254.50 L355.33 255.00 L355.20 255.50 L355.08 256.00 L354.95 256.50 L354.80 257.00 L354.62 257.50 L354.40 258.00 L354.14 258.50 L353.84 259.00 L353.50 259.50 L353.08 260.00 L352.56 260.50 L351.98 261.00 L351.37 261.50 L350.76 262.00 L350.14 262.50 L349.49 263.00 L348.78 263.50 L348.00 264.00 L347.10 264.50 L346.08 265.00 L344.98 265.50 L343.86 266.00 L342.76 266.50 L341.61 267.00 L340.45 267.50 L339.29 268.00 L338.20 268.50 L337.15 269.00 L336.13 269.50 L335.14 270.00 L334.22 270.50 L333.37 271.00 L332.55 271.50 L331.77 272.00 L331.08 272.50 L330.50 273.00 L330.03 273.50 L329.61 274.00 L329.25 274.50 L328.90 275.00 L328.56 275.50 L328.23 276.00 L327.93 276.50 L327.73 277.00 L327.56 277.50 L327.44 278.00 L327.35 278.50 L327.29 279.00 L327.25 279.50 L327.23 280.00 L327.22 280.50 L327.22 281.00 L327.21 281.50 L327.21 282.00 L327.21 282.50 L327.20 283.00 L327.20 283.50 L327.20 284.00 L327.20 284.50 L327.20 284.70 L327.20 284.50 L327.20 284.00 L327.20 283.50 L327.20 283.00 L327.19 282.50 L327.19 282.00 L327.19 281.50 L327.18 281.00 L327.18 280.50 L327.17 280.00 L327.15 279.50 L327.11 279.00 L327.05 278.50 L326.96 278.00 L326.84 277.50 L326.67 277.00 L326.47 276.50 L326.17 276.00 L325.84 275.50 L325.50 275.00 L325.15 274.50 L324.79 274.00 L324.37 273.50 L323.90 273.00 L323.32 272.50 L322.63 272.00 L321.85 271.50 L321.03 271.00 L320.18 270.50 L319.26 270.00 L318.27 269.50 L317.25 269.00 L316.20 268.50 L315.11 268.00 L313.95 267.50 L312.79 267.00 L311.64 266.50 L310.54 266.00 L309.42 265.50 L308.32 265.00 L307.30 264.50 L306.40 264.00 L305.62 263.50 L304.91 263.00 L304.26 262.50 L303.64 262.00 L303.03 261.50 L302.42 261.00 L301.84 260.50 L301.32 260.00 L300.90 259.50 L300.56 259.00 L300.26 258.50 L300.00 258.00 L299.78 257.50 L299.60 257.00 L299.45 256.50 L299.32 256.00 L299.20 255.50 L299.07 255.00 L298.95 254.50 L298.90 254.00 L298.90 253.50 L298.90 253.00 L298.90 252.50 L298.90 252.00 L298.97 251.50 L299.15 251.00 L299.38 250.50 L299.60 250.00 L299.81 249.50 L300.03 249.00 L300.26 248.50 L300.50 248.00 L300.75 247.50 L301.01 247.00 L301.26 246.50 L301.50 246.00 L301.74 245.50 L301.97 245.00 L302.17 244.50 L302.30 244.00 L302.38 243.50 L302.44 243.00 L302.48 242.50 L302.50 242.00 L302.48 241.50 L302.44 241.00 L302.38 240.50 L302.30 240.00 L302.18 239.50 L302.00 239.00 L301.77 238.50 L301.50 238.00 L301.12 237.50 L300.62 237.00 L300.05 236.50 L299.50 236.00 L298.95 235.50 L298.36 235.00 L297.80 234.50 L297.30 234.00 L296.87 233.50 L296.48 233.00 L296.12 232.50 L295.80 232.00 L295.47 231.50 L295.15 231.00 L294.90 230.50 L294.80 230.00 L294.80 229.50 L294.80 229.00 L294.80 228.50 L294.80 228.00 L294.90 227.50 L295.15 227.00 L295.47 226.50 L295.80 226.00 L296.12 225.50 L296.49 225.00 L296.88 224.50 L297.30 224.00 L297.76 223.50 L298.25 223.00 L298.77 222.50 L299.30 222.00 L299.84 221.50 L300.40 221.00 L300.96 220.50 L301.50 220.00 L302.00 219.50 L302.48 219.00 L302.97 218.50 L303.50 218.00 L304.08 217.50 L304.69 217.00 L305.36 216.50 L306.10 216.00 L307.01 215.50 L308.06 215.00 L309.11 214.50 L310.00 214.00 L310.72 213.50 L311.38 213.00 L311.99 212.50 L312.55 212.00 L313.09 211.50 L313.60 211.00 L314.09 210.50 L314.57 210.00 L315.02 209.50 L315.45 209.00 L315.84 208.50 L316.20 208.00 L316.54 207.50 L316.86 207.00 L317.16 206.50 L317.44 206.00 L317.69 205.50 L317.90 205.00 L318.09 204.50 L318.25 204.00 L318.41 203.50 L318.55 203.00 L318.68 202.50 L318.80 202.00 L318.91 201.50 L319.01 201.00 L319.10 200.50 L319.20 200.00 L319.29 199.50 L319.40 199.00 L319.52 198.50 L319.64 198.00 L319.77 197.50 L319.90 197.00 L320.05 196.50 L320.20 196.00 L320.37 195.50 L320.55 195.00 L320.75 194.50 L320.96 194.00 L321.18 193.50 L321.40 193.00 L321.63 192.50 L321.87 192.00 L322.11 191.50 L322.37 191.00 L322.63 190.50 L322.90 190.00 L323.18 189.50 L323.49 189.00 L323.80 188.50 L324.11 188.00 L324.42 187.50 L324.70 187.00 L324.98 186.50 L325.25 186.00 L325.52 185.50 L325.78 185.00 L326.01 184.50 L326.20 184.00 L326.38 183.50 L326.56 183.00 L326.73 182.50 L326.87 182.00 L326.96 181.50 L327.00 181.00 L326.97 180.50 L326.91 180.00 L326.81 179.50 L326.70 179.00 L326.60 178.50 L326.49 178.00 L326.38 177.50 L326.25 177.00 L326.11 176.50 L325.97 176.00 L325.84 175.50 L325.70 175.00 L325.56 174.50 L325.41 174.00 L325.25 173.50 L325.09 173.00 L324.94 172.50 L324.80 172.00 L324.69 171.50 L324.60 171.00 L324.53 170.50 L324.45 170.00 L324.39 169.50 L324.33 169.00 L324.27 168.50 L324.24 168.00 L324.21 167.50 L324.20 167.00 L324.21 166.50 L324.25 166.00 L324.30 165.50 L324.37 165.00 L324.44 164.50 L324.53 164.00 L324.61 163.50 L324.70 163.00 L324.79 162.50 L324.90 162.00 L325.03 161.50 L325.16 161.00 L325.30 160.50 L325.43 160.00 L325.57 159.50 L325.70 159.00 L325.83 158.50 L325.97 158.00 L326.11 157.50 L326.25 157.00 L326.39 156.50 L326.51 156.00 L326.62 155.50 L326.70 155.00 L326.77 154.50 L326.84 154.00 L326.90 153.50 L326.95 153.00 L327.00 152.50 L327.04 152.00 L327.08 151.50 L327.10 151.00 L327.12 150.50 L327.14 150.00 L327.16 149.50 L327.17 149.00 L327.18 148.50 L327.19 148.00 L327.20 147.50Z" fill="none" stroke="#000" stroke-width="1.6" stroke-linejoin="round"/>
<path d="M596.80 147.50 L596.81 148.00 L596.82 148.50 L596.84 149.00 L596.87 149.50 L596.90 150.00 L596.94 150.50 L597.00 151.00 L597.06 151.50 L597.14 152.00 L597.22 152.50 L597.30 153.00 L597.39 153.50 L597.49 154.00 L597.60 154.50 L597.71 155.00 L597.82 155.50 L597.90 156.00 L597.98 156.50 L598.06 157.00 L598.13 157.50 L598.19 158.00 L598.23 158.50 L598.25 159.00 L598.23 159.50 L598.17 160.00 L598.09 160.50 L598.00 161.00 L597.90 161.50 L597.80 162.00 L597.69 162.50 L597.56 163.00 L597.42 163.50 L597.29 164.00 L597.18 164.50 L597.10 165.00 L597.04 165.50 L596.99 166.00 L596.95 166.50 L596.91 167.00 L596.89 167.50 L596.88 168.00 L596.88 168.50 L596.88 169.00 L596.88 169.50 L596.88 170.00 L596.88 170.50 L596.88 171.00 L596.88 171.50 L596.88 172.00 L596.88 172.50 L596.88 173.00 L596.88 173.50 L596.88 174.00 L596.88 174.50 L596.88 175.00 L596.88 175.50 L596.88 176.00 L596.88 176.50 L596.88 177.00 L596.88 177.50 L596.88 178.00 L596.88 178.50 L596.88 179.00 L596.88 179.50 L596.88 180.00 L596.88 180.50 L596.88 181.00 L596.88 181.50 L596.88 182.00 L596.88 182.50 L596.88 183.00 L596.88 183.50 L596.88 184.00 L596.90 184.50 L596.96 185.00 L597.05 185.50 L597.15 186.00 L597.27 186.50 L597.40 187.00 L597.57 187.50 L597.80 188.00 L598.06 188.50 L598.34 189.00 L598.59 189.50 L598.80 190.00 L598.98 190.50 L599.17 191.00 L599.34 191.50 L599.45 192.00 L599.50 192.50 L599.45 193.00 L599.33 193.50 L599.17 194.00 L598.98 194.50 L598.80 195.00 L598.61 195.50 L598.37 196.00 L598.12 196.50 L597.88 197.00 L597.67 197.50 L597.50 198.00 L597.36 198.50 L597.23 199.00 L597.11 199.50 L597.03 200.00 L597.00 200.50 L597.06 201.00 L597.22 201.50 L597.45 202.00 L597.73 202.50 L598.01 203.00 L598.28 203.50 L598.50 204.00 L598.69 204.50 L598.88 205.00 L599.07 205.50 L599.26 206.00 L599.43 206.50 L599.58 207.00 L599.71 207.50 L599.80 208.00 L599.87 208.50 L599.93 209.00 L599.97 209.50 L600.02 210.00 L600.06 210.50 L600.10 211.00 L600.15 211.50 L600.20 212.00 L600.26 212.50 L600.32 213.00 L600.38 213.50 L600.45 214.00 L600.52 214.50 L600.60 215.00 L600.69 215.50 L600.80 216.00 L600.94 216.50 L601.12 217.00 L601.33 217.50 L601.58 218.00 L601.83 218.50 L602.10 219.00 L602.39 219.50 L602.71 220.00 L603.06 220.50 L603.43 221.00 L603.81 221.50 L604.20 222.00 L604.64 222.50 L605.14 223.00 L605.65 223.50 L606.13 224.00 L606.53 224.50 L606.80 225.00 L606.96 225.50 L607.08 226.00 L607.18 226.50 L607.28 227.00 L607.38 227.50 L607.50 228.00 L607.64 228.50 L607.78 229.00 L607.94 229.50 L608.10 230.00 L608.29 230.50 L608.50 231.00 L608.76 231.50 L609.09 232.00 L609.45 232.50 L609.83 233.00 L610.18 233.50 L610.50 234.00 L610.78 234.50 L611.04 235.00 L611.30 235.50 L611.54 236.00 L611.77 236.50 L612.00 237.00 L612.20 237.50 L612.38 238.00 L612.55 238.50 L612.73 239.00 L612.94 239.50 L613.20 240.00 L613.56 240.50 L614.05 241.00 L614.67 241.50 L615.53 242.00 L616.60 242.50 L618.02 243.00 L619.68 243.50 L621.17 244.00 L622.57 244.50 L623.90 245.00 L625.09 245.50 L626.11 246.00 L627.05 246.50 L627.88 247.00 L628.60 247.50 L629.24 248.00 L629.81 248.50 L630.30 249.00 L630.66 249.50 L630.95 250.00 L631.20 250.50 L631.40 251.00 L631.57 251.50 L631.73 252.00 L631.89 252.50 L632.01 253.00 L632.09 253.50 L632.10 254.00 L632.07 254.50 L632.01 255.00 L631.94 255.50 L631.85 256.00 L631.76 256.50 L631.62 257.00 L631.44 257.50 L631.22 258.00 L630.97 258.50 L630.68 259.00 L630.30 259.50 L629.84 260.00 L629.30 260.50 L628.69 261.00 L628.02 261.50 L627.21 262.00 L626.27 262.50 L625.20 263.00 L624.04 263.50 L622.77 264.00 L621.27 264.50 L619.58 265.00 L617.80 265.50 L615.87 266.00 L613.76 266.50 L611.67 267.00 L609.80 267.50 L608.14 268.00 L606.58 268.50 L605.14 269.00 L603.84 269.50 L602.67 270.00 L601.59 270.50 L600.62 271.00 L599.80 271.50 L599.09 272.00 L598.46 272.50 L597.96 273.00 L597.59 273.50 L597.31 274.00 L597.10 274.50 L596.94 275.00 L596.85 275.50 L596.83 276.00 L596.82 276.50 L596.81 277.00 L596.80 277.50 L596.80 278.00 L596.80 278.30 L596.80 278.00 L596.80 277.50 L596.79 277.00 L596.78 276.50 L596.77 276.00 L596.75 275.50 L596.66 275.00 L596.50 274.50 L596.29 274.00 L596.01 273.50 L595.64 273.00 L595.14 272.50 L594.51 272.00 L593.80 271.50 L592.98 271.00 L592.01 270.50 L590.93 270.00 L589.76 269.50 L588.46 269.00 L587.02 268.50 L585.46 268.00 L583.80 267.50 L581.93 267.00 L579.84 266.50 L577.73 266.00 L575.80 265.50 L574.02 265.00 L572.33 264.50 L570.83 264.00 L569.56 263.50 L568.40 263.00 L567.33 262.50 L566.39 262.00 L565.58 261.50 L564.91 261.00 L564.30 260.50 L563.76 260.00 L563.30 259.50 L562.92 259.00 L562.63 258.50 L562.38 258.00 L562.16 257.50 L561.98 257.00 L561.84 256.50 L561.75 256.00 L561.66 255.50 L561.59 255.00 L561.53 254.50 L561.50 254.00 L561.51 253.50 L561.59 253.00 L561.71 252.50 L561.87 252.00 L562.03 251.50 L562.20 251.00 L562.40 250.50 L562.65 250.00 L562.94 249.50 L563.30 249.00 L563.79 248.50 L564.36 248.00 L565.00 247.50 L565.72 247.00 L566.55 246.50 L567.49 246.00 L568.51 245.50 L569.70 245.00 L571.03 244.50 L572.43 244.00 L573.92 243.50 L575.58 243.00 L577.00 242.50 L578.07 242.00 L578.93 241.50 L579.55 241.00 L580.04 240.50 L580.40 240.00 L580.66 239.50 L580.87 239.00 L581.05 238.50 L581.22 238.00 L581.40 237.50 L581.60 237.00 L581.83 236.50 L582.06 236.00 L582.30 235.50 L582.56 235.00 L582.82 234.50 L583.10 234.00 L583.42 233.50 L583.77 233.00 L584.15 232.50 L584.51 232.00 L584.84 231.50 L585.10 231.00 L585.31 230.50 L585.50 230.00 L585.66 229.50 L585.82 229.00 L585.96 228.50 L586.10 228.00 L586.22 227.50 L586.32 227.00 L586.42 226.50 L586.52 226.00 L586.64 225.50 L586.80 225.00 L587.07 224.50 L587.47 224.00 L587.95 223.50 L588.46 223.00 L588.96 222.50 L589.40 222.00 L589.79 221.50 L590.17 221.00 L590.54 220.50 L590.89 220.00 L591.21 219.50 L591.50 219.00 L591.77 218.50 L592.02 218.00 L592.27 217.50 L592.48 217.00 L592.66 216.50 L592.80 216.00 L592.91 215.50 L593.00 215.00 L593.08 214.50 L593.15 214.00 L593.22 213.50 L593.28 213.00 L593.34 212.50 L593.40 212.00 L593.45 211.50 L593.50 211.00 L593.54 210.50 L593.58 210.00 L593.63 209.50 L593.67 209.00 L593.73 208.50 L593.80 208.00 L593.89 207.50 L594.02 207.00 L594.17 206.50 L594.34 206.00 L594.53 205.50 L594.72 205.00 L594.91 204.50 L595.10 204.00 L595.32 203.50 L595.59 203.00 L595.87 202.50 L596.15 202.00 L596.38 201.50 L596.54 201.00 L596.60 200.50 L596.57 200.00 L596.49 199.50 L596.37 199.00 L596.24 198.50 L596.10 198.00 L595.93 197.50 L595.72 197.00 L595.48 196.50 L595.23 196.00 L594.99 195.50 L594.80 195.00 L594.62 194.50 L594.43 194.00 L594.27 193.50 L594.15 193.00 L594.10 192.50 L594.15 192.00 L594.26 191.50 L594.43 191.00 L594.62 190.50 L594.80 190.00 L595.01 189.50 L595.26 189.00 L595.54 188.50 L595.80 188.00 L596.03 187.50 L596.20 187.00 L596.33 186.50 L596.45 186.00 L596.55 185.50 L596.64 185.00 L596.70 184.50 L596.72 184.00 L596.72 183.50 L596.72 183.00 L596.72 182.50 L596.72 182.00 L596.72 181.50 L596.72 181.00 L596.72 180.50 L596.72 180.00 L596.72 179.50 L596.72 179.00 L596.72 178.50 L596.72 178.00 L596.72 177.50 L596.72 177.00 L596.72 176.50 L596.72 176.00 L596.72 175.50 L596.72 175.00 L596.72 174.50 L596.72 174.00 L596.72 173.50 L596.72 173.00 L596.72 172.50 L596.72 172.00 L596.72 171.50 L596.72 171.00 L596.72 170.50 L596.72 170.00 L596.72 169.50 L596.72 169.00 L596.72 168.50 L596.72 168.00 L596.71 167.50 L596.69 167.00 L596.65 166.50 L596.61 166.00 L596.56 165.50 L596.50 165.00 L596.42 164.50 L596.31 164.00 L596.18 163.50 L596.04 163.00 L595.91 162.50 L595.80 162.00 L595.70 161.50 L595.60 161.00 L595.51 160.50 L595.43 160.00 L595.37 159.50 L595.35 159.00 L595.37 158.50 L595.41 158.00 L595.47 157.50 L595.54 157.00 L595.62 156.50 L595.70 156.00 L595.78 155.50 L595.89 155.00 L596.00 154.50 L596.11 154.00 L596.21 153.50 L596.30 153.00 L596.38 152.50 L596.46 152.00 L596.54 151.50 L596.60 151.00 L596.66 150.50 L596.70 150.00 L596.73 149.50 L596.76 149.00 L596.78 148.50 L596.79 148.00Z" fill="#c3c0fc" stroke="none"/>
<line x1="582.19" y1="238.10" x2="611.41" y2="238.10" stroke="#1c1c30" stroke-opacity="0.9" stroke-width="1.31" stroke-dasharray="1.25 2.23"/>
<line x1="563.76" y1="249.80" x2="629.84" y2="249.80" stroke="#111" stroke-width="1.74" stroke-dasharray="3.38 2.67"/>
<line x1="563.63" y1="258.50" x2="629.97" y2="258.50" stroke="#1c1c30" stroke-opacity="0.9" stroke-width="1.31" stroke-dasharray="1.25 2.23"/>
<path d="M596.80 147.50 L596.81 148.00 L596.82 148.50 L596.84 149.00 L596.87 149.50 L596.90 150.00 L596.94 150.50 L597.00 151.00 L597.06 151.50 L597.14 152.00 L597.22 152.50 L597.30 153.00 L597.39 153.50 L597.49 154.00 L597.60 154.50 L597.71 155.00 L597.82 155.50 L597.90 156.00 L597.98 156.50 L598.06 157.00 L598.13 157.50 L598.19 158.00 L598.23 158.50 L598.25 159.00 L598.23 159.50 L598.17 160.00 L598.09 160.50 L598.00 161.00 L597.90 161.50 L597.80 162.00 L597.69 162.50 L597.56 163.00 L597.42 163.50 L597.29 164.00 L597.18 164.50 L597.10 165.00 L597.04 165.50 L596.99 166.00 L596.95 166.50 L596.91 167.00 L596.89 167.50 L596.88 168.00 L596.88 168.50 L596.88 169.00 L596.88 169.50 L596.88 170.00 L596.88 170.50 L596.88 171.00 L596.88 171.50 L596.88 172.00 L596.88 172.50 L596.88 173.00 L596.88 173.50 L596.88 174.00 L596.88 174.50 L596.88 175.00 L596.88 175.50 L596.88 176.00 L596.88 176.50 L596.88 177.00 L596.88 177.50 L596.88 178.00 L596.88 178.50 L596.88 179.00 L596.88 179.50 L596.88 180.00 L596.88 180.50 L596.88 181.00 L596.88 181.50 L596.88 182.00 L596.88 182.50 L596.88 183.00 L596.88 183.50 L596.88 184.00 L596.90 184.50 L596.96 185.00 L597.05 185.50 L597.15 186.00 L597.27 186.50 L597.40 187.00 L597.57 187.50 L597.80 188.00 L598.06 188.50 L598.34 189.00 L598.59 189.50 L598.80 190.00 L598.98 190.50 L599.17 191.00 L599.34 191.50 L599.45 192.00 L599.50 192.50 L599.45 193.00 L599.33 193.50 L599.17 194.00 L598.98 194.50 L598.80 195.00 L598.61 195.50 L598.37 196.00 L598.12 196.50 L597.88 197.00 L597.67 197.50 L597.50 198.00 L597.36 198.50 L597.23 199.00 L597.11 199.50 L597.03 200.00 L597.00 200.50 L597.06 201.00 L597.22 201.50 L597.45 202.00 L597.73 202.50 L598.01 203.00 L598.28 203.50 L598.50 204.00 L598.69 204.50 L598.88 205.00 L599.07 205.50 L599.26 206.00 L599.43 206.50 L599.58 207.00 L599.71 207.50 L599.80 208.00 L599.87 208.50 L599.93 209.00 L599.97 209.50 L600.02 210.00 L600.06 210.50 L600.10 211.00 L600.15 211.50 L600.20 212.00 L600.26 212.50 L600.32 213.00 L600.38 213.50 L600.45 214.00 L600.52 214.50 L600.60 215.00 L600.69 215.50 L600.80 216.00 L600.94 216.50 L601.12 217.00 L601.33 217.50 L601.58 218.00 L601.83 218.50 L602.10 219.00 L602.39 219.50 L602.71 220.00 L603.06 220.50 L603.43 221.00 L603.81 221.50 L604.20 222.00 L604.64 222.50 L605.14 223.00 L605.65 223.50 L606.13 224.00 L606.53 224.50 L606.80 225.00 L606.96 225.50 L607.08 226.00 L607.18 226.50 L607.28 227.00 L607.38 227.50 L607.50 228.00 L607.64 228.50 L607.78 229.00 L607.94 229.50 L608.10 230.00 L608.29 230.50 L608.50 231.00 L608.76 231.50 L609.09 232.00 L609.45 232.50 L609.83 233.00 L610.18 233.50 L610.50 234.00 L610.78 234.50 L611.04 235.00 L611.30 235.50 L611.54 236.00 L611.77 236.50 L612.00 237.00 L612.20 237.50 L612.38 238.00 L612.55 238.50 L612.73 239.00 L612.94 239.50 L613.20 240.00 L613.56 240.50 L614.05 241.00 L614.67 241.50 L615.53 242.00 L616.60 242.50 L618.02 243.00 L619.68 243.50 L621.17 244.00 L622.57 244.50 L623.90 245.00 L625.09 245.50 L626.11 246.00 L627.05 246.50 L627.88 247.00 L628.60 247.50 L629.24 248.00 L629.81 248.50 L630.30 249.00 L630.66 249.50 L630.95 250.00 L631.20 250.50 L631.40 251.00 L631.57 251.50 L631.73 252.00 L631.89 252.50 L632.01 253.00 L632.09 253.50 L632.10 254.00 L632.07 254.50 L632.01 255.00 L631.94 255.50 L631.85 256.00 L631.76 256.50 L631.62 257.00 L631.44 257.50 L631.22 258.00 L630.97 258.50 L630.68 259.00 L630.30 259.50 L629.84 260.00 L629.30 260.50 L628.69 261.00 L628.02 261.50 L627.21 262.00 L626.27 262.50 L625.20 263.00 L624.04 263.50 L622.77 264.00 L621.27 264.50 L619.58 265.00 L617.80 265.50 L615.87 266.00 L613.76 266.50 L611.67 267.00 L609.80 267.50 L608.14 268.00 L606.58 268.50 L605.14 269.00 L603.84 269.50 L602.67 270.00 L601.59 270.50 L600.62 271.00 L599.80 271.50 L599.09 272.00 L598.46 272.50 L597.96 273.00 L597.59 273.50 L597.31 274.00 L597.10 274.50 L596.94 275.00 L596.85 275.50 L596.83 276.00 L596.82 276.50 L596.81 277.00 L596.80 277.50 L596.80 278.00 L596.80 278.30 L596.80 278.00 L596.80 277.50 L596.79 277.00 L596.78 276.50 L596.77 276.00 L596.75 275.50 L596.66 275.00 L596.50 274.50 L596.29 274.00 L596.01 273.50 L595.64 273.00 L595.14 272.50 L594.51 272.00 L593.80 271.50 L592.98 271.00 L592.01 270.50 L590.93 270.00 L589.76 269.50 L588.46 269.00 L587.02 268.50 L585.46 268.00 L583.80 267.50 L581.93 267.00 L579.84 266.50 L577.73 266.00 L575.80 265.50 L574.02 265.00 L572.33 264.50 L570.83 264.00 L569.56 263.50 L568.40 263.00 L567.33 262.50 L566.39 262.00 L565.58 261.50 L564.91 261.00 L564.30 260.50 L563.76 260.00 L563.30 259.50 L562.92 259.00 L562.63 258.50 L562.38 258.00 L562.16 257.50 L561.98 257.00 L561.84 256.50 L561.75 256.00 L561.66 255.50 L561.59 255.00 L561.53 254.50 L561.50 254.00 L561.51 253.50 L561.59 253.00 L561.71 252.50 L561.87 252.00 L562.03 251.50 L562.20 251.00 L562.40 250.50 L562.65 250.00 L562.94 249.50 L563.30 249.00 L563.79 248.50 L564.36 248.00 L565.00 247.50 L565.72 247.00 L566.55 246.50 L567.49 246.00 L568.51 245.50 L569.70 245.00 L571.03 244.50 L572.43 244.00 L573.92 243.50 L575.58 243.00 L577.00 242.50 L578.07 242.00 L578.93 241.50 L579.55 241.00 L580.04 240.50 L580.40 240.00 L580.66 239.50 L580.87 239.00 L581.05 238.50 L581.22 238.00 L581.40 237.50 L581.60 237.00 L581.83 236.50 L582.06 236.00 L582.30 235.50 L582.56 235.00 L582.82 234.50 L583.10 234.00 L583.42 233.50 L583.77 233.00 L584.15 232.50 L584.51 232.00 L584.84 231.50 L585.10 231.00 L585.31 230.50 L585.50 230.00 L585.66 229.50 L585.82 229.00 L585.96 228.50 L586.10 228.00 L586.22 227.50 L586.32 227.00 L586.42 226.50 L586.52 226.00 L586.64 225.50 L586.80 225.00 L587.07 224.50 L587.47 224.00 L587.95 223.50 L588.46 223.00 L588.96 222.50 L589.40 222.00 L589.79 221.50 L590.17 221.00 L590.54 220.50 L590.89 220.00 L591.21 219.50 L591.50 219.00 L591.77 218.50 L592.02 218.00 L592.27 217.50 L592.48 217.00 L592.66 216.50 L592.80 216.00 L592.91 215.50 L593.00 215.00 L593.08 214.50 L593.15 214.00 L593.22 213.50 L593.28 213.00 L593.34 212.50 L593.40 212.00 L593.45 211.50 L593.50 211.00 L593.54 210.50 L593.58 210.00 L593.63 209.50 L593.67 209.00 L593.73 208.50 L593.80 208.00 L593.89 207.50 L594.02 207.00 L594.17 206.50 L594.34 206.00 L594.53 205.50 L594.72 205.00 L594.91 204.50 L595.10 204.00 L595.32 203.50 L595.59 203.00 L595.87 202.50 L596.15 202.00 L596.38 201.50 L596.54 201.00 L596.60 200.50 L596.57 200.00 L596.49 199.50 L596.37 199.00 L596.24 198.50 L596.10 198.00 L595.93 197.50 L595.72 197.00 L595.48 196.50 L595.23 196.00 L594.99 195.50 L594.80 195.00 L594.62 194.50 L594.43 194.00 L594.27 193.50 L594.15 193.00 L594.10 192.50 L594.15 192.00 L594.26 191.50 L594.43 191.00 L594.62 190.50 L594.80 190.00 L595.01 189.50 L595.26 189.00 L595.54 188.50 L595.80 188.00 L596.03 187.50 L596.20 187.00 L596.33 186.50 L596.45 186.00 L596.55 185.50 L596.64 185.00 L596.70 184.50 L596.72 184.00 L596.72 183.50 L596.72 183.00 L596.72 182.50 L596.72 182.00 L596.72 181.50 L596.72 181.00 L596.72 180.50 L596.72 180.00 L596.72 179.50 L596.72 179.00 L596.72 178.50 L596.72 178.00 L596.72 177.50 L596.72 177.00 L596.72 176.50 L596.72 176.00 L596.72 175.50 L596.72 175.00 L596.72 174.50 L596.72 174.00 L596.72 173.50 L596.72 173.00 L596.72 172.50 L596.72 172.00 L596.72 171.50 L596.72 171.00 L596.72 170.50 L596.72 170.00 L596.72 169.50 L596.72 169.00 L596.72 168.50 L596.72 168.00 L596.71 167.50 L596.69 167.00 L596.65 166.50 L596.61 166.00 L596.56 165.50 L596.50 165.00 L596.42 164.50 L596.31 164.00 L596.18 163.50 L596.04 163.00 L595.91 162.50 L595.80 162.00 L595.70 161.50 L595.60 161.00 L595.51 160.50 L595.43 160.00 L595.37 159.50 L595.35 159.00 L595.37 158.50 L595.41 158.00 L595.47 157.50 L595.54 157.00 L595.62 156.50 L595.70 156.00 L595.78 155.50 L595.89 155.00 L596.00 154.50 L596.11 154.00 L596.21 153.50 L596.30 153.00 L596.38 152.50 L596.46 152.00 L596.54 151.50 L596.60 151.00 L596.66 150.50 L596.70 150.00 L596.73 149.50 L596.76 149.00 L596.78 148.50 L596.79 148.00Z" fill="none" stroke="#000" stroke-width="1.6" stroke-linejoin="round"/>
<path d="M705.40 145.50 L705.41 146.00 L705.42 146.50 L705.43 147.00 L705.44 147.50 L705.45 148.00 L705.46 148.50 L705.47 149.00 L705.49 149.50 L705.50 150.00 L705.51 150.50 L705.53 151.00 L705.55 151.50 L705.56 152.00 L705.58 152.50 L705.60 153.00 L705.62 153.50 L705.65 154.00 L705.67 154.50 L705.70 155.00 L705.73 155.50 L705.77 156.00 L705.82 156.50 L705.87 157.00 L705.93 157.50 L705.98 158.00 L706.04 158.50 L706.10 159.00 L706.15 159.50 L706.20 160.00 L706.25 160.50 L706.31 161.00 L706.37 161.50 L706.42 162.00 L706.48 162.50 L706.53 163.00 L706.57 163.50 L706.59 164.00 L706.60 164.50 L706.58 165.00 L706.53 165.50 L706.46 166.00 L706.38 166.50 L706.29 167.00 L706.20 167.50 L706.10 168.00 L705.97 168.50 L705.84 169.00 L705.74 169.50 L705.70 170.00 L705.72 170.50 L705.77 171.00 L705.85 171.50 L705.94 172.00 L706.04 172.50 L706.14 173.00 L706.23 173.50 L706.30 174.00 L706.36 174.50 L706.41 175.00 L706.45 175.50 L706.50 176.00 L706.54 176.50 L706.59 177.00 L706.64 177.50 L706.70 178.00 L706.77 178.50 L706.86 179.00 L706.96 179.50 L707.06 180.00 L707.16 180.50 L707.27 181.00 L707.37 181.50 L707.46 182.00 L707.54 182.50 L707.60 183.00 L707.65 183.50 L707.71 184.00 L707.76 184.50 L707.80 185.00 L707.84 185.50 L707.87 186.00 L707.89 186.50 L707.90 187.00 L707.90 187.50 L707.90 188.00 L707.90 188.50 L707.90 189.00 L707.90 189.50 L707.90 190.00 L707.90 190.50 L707.90 191.00 L707.90 191.50 L707.90 192.00 L707.90 192.50 L707.90 193.00 L707.90 193.50 L707.90 194.00 L707.90 194.50 L707.90 195.00 L707.90 195.50 L707.91 196.00 L707.92 196.50 L707.93 197.00 L707.94 197.50 L707.96 198.00 L707.98 198.50 L708.00 199.00 L708.03 199.50 L708.08 200.00 L708.14 200.50 L708.22 201.00 L708.31 201.50 L708.40 202.00 L708.52 202.50 L708.68 203.00 L708.86 203.50 L709.07 204.00 L709.29 204.50 L709.50 205.00 L709.72 205.50 L709.97 206.00 L710.22 206.50 L710.48 207.00 L710.74 207.50 L711.00 208.00 L711.25 208.50 L711.49 209.00 L711.74 209.50 L712.00 210.00 L712.28 210.50 L712.59 211.00 L712.89 211.50 L713.20 212.00 L713.53 212.50 L713.88 213.00 L714.18 213.50 L714.40 214.00 L714.53 214.50 L714.64 215.00 L714.73 215.50 L714.80 216.00 L714.86 216.50 L714.90 217.00 L714.94 217.50 L715.00 218.00 L715.09 218.50 L715.21 219.00 L715.36 219.50 L715.50 220.00 L715.65 220.50 L715.80 221.00 L715.96 221.50 L716.14 222.00 L716.31 222.50 L716.50 223.00 L716.70 223.50 L716.91 224.00 L717.14 224.50 L717.36 225.00 L717.59 225.50 L717.80 226.00 L718.01 226.50 L718.22 227.00 L718.42 227.50 L718.62 228.00 L718.81 228.50 L719.00 229.00 L719.17 229.50 L719.32 230.00 L719.46 230.50 L719.61 231.00 L719.79 231.50 L720.00 232.00 L720.27 232.50 L720.61 233.00 L721.01 233.50 L721.47 234.00 L721.96 234.50 L722.50 235.00 L723.13 235.50 L723.89 236.00 L724.73 236.50 L725.60 237.00 L726.51 237.50 L727.50 238.00 L728.53 238.50 L729.60 239.00 L730.70 239.50 L731.90 240.00 L733.32 240.50 L734.70 241.00 L735.81 241.50 L736.80 242.00 L737.76 242.50 L738.60 243.00 L739.42 243.50 L740.18 244.00 L740.59 244.50 L740.43 245.00 L739.87 245.50 L739.11 246.00 L738.40 246.50 L737.73 247.00 L737.03 247.50 L736.40 248.00 L735.86 248.50 L735.37 249.00 L734.90 249.50 L734.40 250.00 L733.92 250.50 L733.60 251.00 L733.41 251.50 L733.25 252.00 L733.14 252.50 L733.10 253.00 L733.14 253.50 L733.26 254.00 L733.42 254.50 L733.60 255.00 L733.86 255.50 L734.23 256.00 L734.66 256.50 L735.10 257.00 L735.57 257.50 L736.10 258.00 L736.63 258.50 L737.10 259.00 L737.58 259.50 L738.06 260.00 L738.45 260.50 L738.60 261.00 L738.41 261.50 L737.91 262.00 L737.24 262.50 L736.28 263.00 L734.77 263.50 L733.10 264.00 L731.33 264.50 L729.39 265.00 L727.47 265.50 L725.69 266.00 L723.96 266.50 L722.17 267.00 L720.29 267.50 L718.43 268.00 L716.74 268.50 L715.08 269.00 L713.49 269.50 L712.07 270.00 L710.90 270.50 L709.96 271.00 L709.15 271.50 L708.43 272.00 L707.78 272.50 L707.15 273.00 L706.51 273.50 L705.99 274.00 L705.71 274.50 L705.53 275.00 L705.45 275.50 L705.44 276.00 L705.42 276.50 L705.42 277.00 L705.41 277.50 L705.40 278.00 L705.40 278.50 L705.40 279.00 L705.40 279.20 L705.40 279.00 L705.40 278.50 L705.40 278.00 L705.39 277.50 L705.38 277.00 L705.38 276.50 L705.36 276.00 L705.35 275.50 L705.27 275.00 L705.09 274.50 L704.81 274.00 L704.29 273.50 L703.65 273.00 L703.02 272.50 L702.37 272.00 L701.65 271.50 L700.84 271.00 L699.90 270.50 L698.73 270.00 L697.31 269.50 L695.72 269.00 L694.06 268.50 L692.37 268.00 L690.51 267.50 L688.63 267.00 L686.84 266.50 L685.11 266.00 L683.33 265.50 L681.41 265.00 L679.47 264.50 L677.70 264.00 L676.03 263.50 L674.52 263.00 L673.56 262.50 L672.89 262.00 L672.39 261.50 L672.20 261.00 L672.35 260.50 L672.74 260.00 L673.22 259.50 L673.70 259.00 L674.17 258.50 L674.70 258.00 L675.23 257.50 L675.70 257.00 L676.14 256.50 L676.57 256.00 L676.94 255.50 L677.20 255.00 L677.38 254.50 L677.54 254.00 L677.66 253.50 L677.70 253.00 L677.66 252.50 L677.55 252.00 L677.39 251.50 L677.20 251.00 L676.88 250.50 L676.40 250.00 L675.90 249.50 L675.43 249.00 L674.94 248.50 L674.40 248.00 L673.77 247.50 L673.07 247.00 L672.40 246.50 L671.69 246.00 L670.93 245.50 L670.37 245.00 L670.21 244.50 L670.62 244.00 L671.38 243.50 L672.20 243.00 L673.04 242.50 L674.00 242.00 L674.99 241.50 L676.10 241.00 L677.48 240.50 L678.90 240.00 L680.10 239.50 L681.20 239.00 L682.27 238.50 L683.30 238.00 L684.29 237.50 L685.20 237.00 L686.07 236.50 L686.91 236.00 L687.67 235.50 L688.30 235.00 L688.84 234.50 L689.33 234.00 L689.79 233.50 L690.19 233.00 L690.53 232.50 L690.80 232.00 L691.01 231.50 L691.19 231.00 L691.34 230.50 L691.48 230.00 L691.63 229.50 L691.80 229.00 L691.99 228.50 L692.18 228.00 L692.38 227.50 L692.58 227.00 L692.79 226.50 L693.00 226.00 L693.21 225.50 L693.44 225.00 L693.66 224.50 L693.89 224.00 L694.10 223.50 L694.30 223.00 L694.49 222.50 L694.66 222.00 L694.84 221.50 L695.00 221.00 L695.15 220.50 L695.30 220.00 L695.44 219.50 L695.59 219.00 L695.71 218.50 L695.80 218.00 L695.86 217.50 L695.90 217.00 L695.94 216.50 L696.00 216.00 L696.07 215.50 L696.16 215.00 L696.27 214.50 L696.40 214.00 L696.62 213.50 L696.92 213.00 L697.27 212.50 L697.60 212.00 L697.91 211.50 L698.21 211.00 L698.52 210.50 L698.80 210.00 L699.06 209.50 L699.31 209.00 L699.55 208.50 L699.80 208.00 L700.06 207.50 L700.32 207.00 L700.58 206.50 L700.83 206.00 L701.08 205.50 L701.30 205.00 L701.51 204.50 L701.73 204.00 L701.94 203.50 L702.12 203.00 L702.28 202.50 L702.40 202.00 L702.49 201.50 L702.58 201.00 L702.66 200.50 L702.72 200.00 L702.77 199.50 L702.80 199.00 L702.82 198.50 L702.84 198.00 L702.86 197.50 L702.87 197.00 L702.88 196.50 L702.89 196.00 L702.90 195.50 L702.90 195.00 L702.90 194.50 L702.90 194.00 L702.90 193.50 L702.90 193.00 L702.90 192.50 L702.90 192.00 L702.90 191.50 L702.90 191.00 L702.90 190.50 L702.90 190.00 L702.90 189.50 L702.90 189.00 L702.90 188.50 L702.90 188.00 L702.90 187.50 L702.90 187.00 L702.91 186.50 L702.93 186.00 L702.96 185.50 L703.00 185.00 L703.04 184.50 L703.09 184.00 L703.15 183.50 L703.20 183.00 L703.26 182.50 L703.34 182.00 L703.43 181.50 L703.53 181.00 L703.64 180.50 L703.74 180.00 L703.84 179.50 L703.94 179.00 L704.03 178.50 L704.10 178.00 L704.16 177.50 L704.21 177.00 L704.26 176.50 L704.30 176.00 L704.35 175.50 L704.39 175.00 L704.44 174.50 L704.50 174.00 L704.57 173.50 L704.66 173.00 L704.76 172.50 L704.86 172.00 L704.95 171.50 L705.03 171.00 L705.08 170.50 L705.10 170.00 L705.06 169.50 L704.96 169.00 L704.83 168.50 L704.70 168.00 L704.60 167.50 L704.51 167.00 L704.42 166.50 L704.34 166.00 L704.27 165.50 L704.22 165.00 L704.20 164.50 L704.21 164.00 L704.23 163.50 L704.27 163.00 L704.32 162.50 L704.38 162.00 L704.43 161.50 L704.49 161.00 L704.55 160.50 L704.60 160.00 L704.65 159.50 L704.70 159.00 L704.76 158.50 L704.82 158.00 L704.87 157.50 L704.93 157.00 L704.98 156.50 L705.03 156.00 L705.07 155.50 L705.10 155.00 L705.13 154.50 L705.15 154.00 L705.18 153.50 L705.20 153.00 L705.22 152.50 L705.24 152.00 L705.25 151.50 L705.27 151.00 L705.29 150.50 L705.30 150.00 L705.31 149.50 L705.33 149.00 L705.34 148.50 L705.35 148.00 L705.36 147.50 L705.37 147.00 L705.38 146.50 L705.39 146.00Z" fill="#faa032" stroke="none"/>
<line x1="691.64" y1="232.30" x2="719.16" y2="232.30" stroke="#1c1c30" stroke-opacity="0.9" stroke-width="1.31" stroke-dasharray="1.25 2.23"/>
<line x1="672.08" y1="245.60" x2="738.72" y2="245.60" stroke="#111" stroke-width="1.74" stroke-dasharray="3.38 2.67"/>
<line x1="675.17" y1="258.50" x2="735.63" y2="258.50" stroke="#1c1c30" stroke-opacity="0.9" stroke-width="1.31" stroke-dasharray="1.25 2.23"/>
<path d="M705.40 145.50 L705.41 146.00 L705.42 146.50 L705.43 147.00 L705.44 147.50 L705.45 148.00 L705.46 148.50 L705.47 149.00 L705.49 149.50 L705.50 150.00 L705.51 150.50 L705.53 151.00 L705.55 151.50 L705.56 152.00 L705.58 152.50 L705.60 153.00 L705.62 153.50 L705.65 154.00 L705.67 154.50 L705.70 155.00 L705.73 155.50 L705.77 156.00 L705.82 156.50 L705.87 157.00 L705.93 157.50 L705.98 158.00 L706.04 158.50 L706.10 159.00 L706.15 159.50 L706.20 160.00 L706.25 160.50 L706.31 161.00 L706.37 161.50 L706.42 162.00 L706.48 162.50 L706.53 163.00 L706.57 163.50 L706.59 164.00 L706.60 164.50 L706.58 165.00 L706.53 165.50 L706.46 166.00 L706.38 166.50 L706.29 167.00 L706.20 167.50 L706.10 168.00 L705.97 168.50 L705.84 169.00 L705.74 169.50 L705.70 170.00 L705.72 170.50 L705.77 171.00 L705.85 171.50 L705.94 172.00 L706.04 172.50 L706.14 173.00 L706.23 173.50 L706.30 174.00 L706.36 174.50 L706.41 175.00 L706.45 175.50 L706.50 176.00 L706.54 176.50 L706.59 177.00 L706.64 177.50 L706.70 178.00 L706.77 178.50 L706.86 179.00 L706.96 179.50 L707.06 180.00 L707.16 180.50 L707.27 181.00 L707.37 181.50 L707.46 182.00 L707.54 182.50 L707.60 183.00 L707.65 183.50 L707.71 184.00 L707.76 184.50 L707.80 185.00 L707.84 185.50 L707.87 186.00 L707.89 186.50 L707.90 187.00 L707.90 187.50 L707.90 188.00 L707.90 188.50 L707.90 189.00 L707.90 189.50 L707.90 190.00 L707.90 190.50 L707.90 191.00 L707.90 191.50 L707.90 192.00 L707.90 192.50 L707.90 193.00 L707.90 193.50 L707.90 194.00 L707.90 194.50 L707.90 195.00 L707.90 195.50 L707.91 196.00 L707.92 196.50 L707.93 197.00 L707.94 197.50 L707.96 198.00 L707.98 198.50 L708.00 199.00 L708.03 199.50 L708.08 200.00 L708.14 200.50 L708.22 201.00 L708.31 201.50 L708.40 202.00 L708.52 202.50 L708.68 203.00 L708.86 203.50 L709.07 204.00 L709.29 204.50 L709.50 205.00 L709.72 205.50 L709.97 206.00 L710.22 206.50 L710.48 207.00 L710.74 207.50 L711.00 208.00 L711.25 208.50 L711.49 209.00 L711.74 209.50 L712.00 210.00 L712.28 210.50 L712.59 211.00 L712.89 211.50 L713.20 212.00 L713.53 212.50 L713.88 213.00 L714.18 213.50 L714.40 214.00 L714.53 214.50 L714.64 215.00 L714.73 215.50 L714.80 216.00 L714.86 216.50 L714.90 217.00 L714.94 217.50 L715.00 218.00 L715.09 218.50 L715.21 219.00 L715.36 219.50 L715.50 220.00 L715.65 220.50 L715.80 221.00 L715.96 221.50 L716.14 222.00 L716.31 222.50 L716.50 223.00 L716.70 223.50 L716.91 224.00 L717.14 224.50 L717.36 225.00 L717.59 225.50 L717.80 226.00 L718.01 226.50 L718.22 227.00 L718.42 227.50 L718.62 228.00 L718.81 228.50 L719.00 229.00 L719.17 229.50 L719.32 230.00 L719.46 230.50 L719.61 231.00 L719.79 231.50 L720.00 232.00 L720.27 232.50 L720.61 233.00 L721.01 233.50 L721.47 234.00 L721.96 234.50 L722.50 235.00 L723.13 235.50 L723.89 236.00 L724.73 236.50 L725.60 237.00 L726.51 237.50 L727.50 238.00 L728.53 238.50 L729.60 239.00 L730.70 239.50 L731.90 240.00 L733.32 240.50 L734.70 241.00 L735.81 241.50 L736.80 242.00 L737.76 242.50 L738.60 243.00 L739.42 243.50 L740.18 244.00 L740.59 244.50 L740.43 245.00 L739.87 245.50 L739.11 246.00 L738.40 246.50 L737.73 247.00 L737.03 247.50 L736.40 248.00 L735.86 248.50 L735.37 249.00 L734.90 249.50 L734.40 250.00 L733.92 250.50 L733.60 251.00 L733.41 251.50 L733.25 252.00 L733.14 252.50 L733.10 253.00 L733.14 253.50 L733.26 254.00 L733.42 254.50 L733.60 255.00 L733.86 255.50 L734.23 256.00 L734.66 256.50 L735.10 257.00 L735.57 257.50 L736.10 258.00 L736.63 258.50 L737.10 259.00 L737.58 259.50 L738.06 260.00 L738.45 260.50 L738.60 261.00 L738.41 261.50 L737.91 262.00 L737.24 262.50 L736.28 263.00 L734.77 263.50 L733.10 264.00 L731.33 264.50 L729.39 265.00 L727.47 265.50 L725.69 266.00 L723.96 266.50 L722.17 267.00 L720.29 267.50 L718.43 268.00 L716.74 268.50 L715.08 269.00 L713.49 269.50 L712.07 270.00 L710.90 270.50 L709.96 271.00 L709.15 271.50 L708.43 272.00 L707.78 272.50 L707.15 273.00 L706.51 273.50 L705.99 274.00 L705.71 274.50 L705.53 275.00 L705.45 275.50 L705.44 276.00 L705.42 276.50 L705.42 277.00 L705.41 277.50 L705.40 278.00 L705.40 278.50 L705.40 279.00 L705.40 279.20 L705.40 279.00 L705.40 278.50 L705.40 278.00 L705.39 277.50 L705.38 277.00 L705.38 276.50 L705.36 276.00 L705.35 275.50 L705.27 275.00 L705.09 274.50 L704.81 274.00 L704.29 273.50 L703.65 273.00 L703.02 272.50 L702.37 272.00 L701.65 271.50 L700.84 271.00 L699.90 270.50 L698.73 270.00 L697.31 269.50 L695.72 269.00 L694.06 268.50 L692.37 268.00 L690.51 267.50 L688.63 267.00 L686.84 266.50 L685.11 266.00 L683.33 265.50 L681.41 265.00 L679.47 264.50 L677.70 264.00 L676.03 263.50 L674.52 263.00 L673.56 262.50 L672.89 262.00 L672.39 261.50 L672.20 261.00 L672.35 260.50 L672.74 260.00 L673.22 259.50 L673.70 259.00 L674.17 258.50 L674.70 258.00 L675.23 257.50 L675.70 257.00 L676.14 256.50 L676.57 256.00 L676.94 255.50 L677.20 255.00 L677.38 254.50 L677.54 254.00 L677.66 253.50 L677.70 253.00 L677.66 252.50 L677.55 252.00 L677.39 251.50 L677.20 251.00 L676.88 250.50 L676.40 250.00 L675.90 249.50 L675.43 249.00 L674.94 248.50 L674.40 248.00 L673.77 247.50 L673.07 247.00 L672.40 246.50 L671.69 246.00 L670.93 245.50 L670.37 245.00 L670.21 244.50 L670.62 244.00 L671.38 243.50 L672.20 243.00 L673.04 242.50 L674.00 242.00 L674.99 241.50 L676.10 241.00 L677.48 240.50 L678.90 240.00 L680.10 239.50 L681.20 239.00 L682.27 238.50 L683.30 238.00 L684.29 237.50 L685.20 237.00 L686.07 236.50 L686.91 236.00 L687.67 235.50 L688.30 235.00 L688.84 234.50 L689.33 234.00 L689.79 233.50 L690.19 233.00 L690.53 232.50 L690.80 232.00 L691.01 231.50 L691.19 231.00 L691.34 230.50 L691.48 230.00 L691.63 229.50 L691.80 229.00 L691.99 228.50 L692.18 228.00 L692.38 227.50 L692.58 227.00 L692.79 226.50 L693.00 226.00 L693.21 225.50 L693.44 225.00 L693.66 224.50 L693.89 224.00 L694.10 223.50 L694.30 223.00 L694.49 222.50 L694.66 222.00 L694.84 221.50 L695.00 221.00 L695.15 220.50 L695.30 220.00 L695.44 219.50 L695.59 219.00 L695.71 218.50 L695.80 218.00 L695.86 217.50 L695.90 217.00 L695.94 216.50 L696.00 216.00 L696.07 215.50 L696.16 215.00 L696.27 214.50 L696.40 214.00 L696.62 213.50 L696.92 213.00 L697.27 212.50 L697.60 212.00 L697.91 211.50 L698.21 211.00 L698.52 210.50 L698.80 210.00 L699.06 209.50 L699.31 209.00 L699.55 208.50 L699.80 208.00 L700.06 207.50 L700.32 207.00 L700.58 206.50 L700.83 206.00 L701.08 205.50 L701.30 205.00 L701.51 204.50 L701.73 204.00 L701.94 203.50 L702.12 203.00 L702.28 202.50 L702.40 202.00 L702.49 201.50 L702.58 201.00 L702.66 200.50 L702.72 200.00 L702.77 199.50 L702.80 199.00 L702.82 198.50 L702.84 198.00 L702.86 197.50 L702.87 197.00 L702.88 196.50 L702.89 196.00 L702.90 195.50 L702.90 195.00 L702.90 194.50 L702.90 194.00 L702.90 193.50 L702.90 193.00 L702.90 192.50 L702.90 192.00 L702.90 191.50 L702.90 191.00 L702.90 190.50 L702.90 190.00 L702.90 189.50 L702.90 189.00 L702.90 188.50 L702.90 188.00 L702.90 187.50 L702.90 187.00 L702.91 186.50 L702.93 186.00 L702.96 185.50 L703.00 185.00 L703.04 184.50 L703.09 184.00 L703.15 183.50 L703.20 183.00 L703.26 182.50 L703.34 182.00 L703.43 181.50 L703.53 181.00 L703.64 180.50 L703.74 180.00 L703.84 179.50 L703.94 179.00 L704.03 178.50 L704.10 178.00 L704.16 177.50 L704.21 177.00 L704.26 176.50 L704.30 176.00 L704.35 175.50 L704.39 175.00 L704.44 174.50 L704.50 174.00 L704.57 173.50 L704.66 173.00 L704.76 172.50 L704.86 172.00 L704.95 171.50 L705.03 171.00 L705.08 170.50 L705.10 170.00 L705.06 169.50 L704.96 169.00 L704.83 168.50 L704.70 168.00 L704.60 167.50 L704.51 167.00 L704.42 166.50 L704.34 166.00 L704.27 165.50 L704.22 165.00 L704.20 164.50 L704.21 164.00 L704.23 163.50 L704.27 163.00 L704.32 162.50 L704.38 162.00 L704.43 161.50 L704.49 161.00 L704.55 160.50 L704.60 160.00 L704.65 159.50 L704.70 159.00 L704.76 158.50 L704.82 158.00 L704.87 157.50 L704.93 157.00 L704.98 156.50 L705.03 156.00 L705.07 155.50 L705.10 155.00 L705.13 154.50 L705.15 154.00 L705.18 153.50 L705.20 153.00 L705.22 152.50 L705.24 152.00 L705.25 151.50 L705.27 151.00 L705.29 150.50 L705.30 150.00 L705.31 149.50 L705.33 149.00 L705.34 148.50 L705.35 148.00 L705.36 147.50 L705.37 147.00 L705.38 146.50 L705.39 146.00Z" fill="none" stroke="#000" stroke-width="1.6" stroke-linejoin="round"/>
<path d="M814.00 108.00 L814.02 108.50 L814.03 109.00 L814.05 109.50 L814.07 110.00 L814.09 110.50 L814.11 111.00 L814.13 111.50 L814.15 112.00 L814.17 112.50 L814.19 113.00 L814.21 113.50 L814.24 114.00 L814.27 114.50 L814.30 115.00 L814.34 115.50 L814.38 116.00 L814.43 116.50 L814.49 117.00 L814.56 117.50 L814.63 118.00 L814.71 118.50 L814.80 119.00 L814.91 119.50 L815.06 120.00 L815.23 120.50 L815.42 121.00 L815.61 121.50 L815.80 122.00 L815.99 122.50 L816.19 123.00 L816.40 123.50 L816.61 124.00 L816.81 124.50 L817.00 125.00 L817.18 125.50 L817.36 126.00 L817.53 126.50 L817.69 127.00 L817.85 127.50 L818.00 128.00 L818.15 128.50 L818.29 129.00 L818.43 129.50 L818.57 130.00 L818.69 130.50 L818.80 131.00 L818.90 131.50 L819.00 132.00 L819.09 132.50 L819.17 133.00 L819.24 133.50 L819.30 134.00 L819.35 134.50 L819.39 135.00 L819.44 135.50 L819.47 136.00 L819.49 136.50 L819.50 137.00 L819.49 137.50 L819.44 138.00 L819.38 138.50 L819.30 139.00 L819.10 139.50 L818.75 140.00 L818.35 140.50 L818.00 141.00 L817.72 141.50 L817.45 142.00 L817.19 142.50 L816.94 143.00 L816.71 143.50 L816.50 144.00 L816.30 144.50 L816.11 145.00 L815.92 145.50 L815.76 146.00 L815.61 146.50 L815.50 147.00 L815.40 147.50 L815.31 148.00 L815.23 148.50 L815.16 149.00 L815.12 149.50 L815.10 150.00 L815.13 150.50 L815.21 151.00 L815.33 151.50 L815.47 152.00 L815.63 152.50 L815.80 153.00 L816.00 153.50 L816.25 154.00 L816.54 154.50 L816.86 155.00 L817.18 155.50 L817.50 156.00 L817.81 156.50 L818.14 157.00 L818.48 157.50 L818.82 158.00 L819.16 158.50 L819.50 159.00 L819.84 159.50 L820.19 160.00 L820.54 160.50 L820.88 161.00 L821.20 161.50 L821.50 162.00 L821.78 162.50 L822.05 163.00 L822.31 163.50 L822.56 164.00 L822.79 164.50 L823.00 165.00 L823.20 165.50 L823.39 166.00 L823.57 166.50 L823.73 167.00 L823.88 167.50 L824.00 168.00 L824.11 168.50 L824.23 169.00 L824.33 169.50 L824.42 170.00 L824.48 170.50 L824.50 171.00 L824.48 171.50 L824.44 172.00 L824.38 172.50 L824.30 173.00 L824.15 173.50 L823.91 174.00 L823.60 174.50 L823.16 175.00 L822.58 175.50 L822.00 176.00 L821.44 176.50 L820.86 177.00 L820.30 177.50 L819.80 178.00 L819.32 178.50 L818.86 179.00 L818.47 179.50 L818.20 180.00 L818.02 180.50 L817.85 181.00 L817.71 181.50 L817.60 182.00 L817.53 182.50 L817.50 183.00 L817.51 183.50 L817.54 184.00 L817.59 184.50 L817.65 185.00 L817.72 185.50 L817.80 186.00 L817.91 186.50 L818.06 187.00 L818.26 187.50 L818.49 188.00 L818.74 188.50 L819.00 189.00 L819.31 189.50 L819.70 190.00 L820.10 190.50 L820.50 191.00 L820.85 191.50 L821.19 192.00 L821.56 192.50 L822.00 193.00 L822.58 193.50 L823.30 194.00 L824.07 194.50 L824.80 195.00 L825.44 195.50 L826.08 196.00 L826.80 196.50 L827.73 197.00 L828.79 197.50 L829.80 198.00 L830.71 198.50 L831.59 199.00 L832.40 199.50 L833.16 200.00 L833.88 200.50 L834.50 201.00 L835.04 201.50 L835.51 202.00 L835.90 202.50 L836.22 203.00 L836.50 203.50 L836.70 204.00 L836.85 204.50 L836.98 205.00 L837.07 205.50 L837.10 206.00 L837.05 206.50 L836.94 207.00 L836.79 207.50 L836.63 208.00 L836.36 208.50 L836.01 209.00 L835.61 209.50 L835.20 210.00 L834.75 210.50 L834.24 211.00 L833.70 211.50 L833.18 212.00 L832.72 212.50 L832.24 213.00 L831.79 213.50 L831.39 214.00 L831.10 214.50 L830.88 215.00 L830.68 215.50 L830.51 216.00 L830.42 216.50 L830.40 217.00 L830.42 217.50 L830.47 218.00 L830.53 218.50 L830.60 219.00 L830.77 219.50 L831.08 220.00 L831.48 220.50 L831.93 221.00 L832.38 221.50 L832.89 222.00 L833.47 222.50 L834.12 223.00 L834.85 223.50 L835.71 224.00 L836.75 224.50 L837.80 225.00 L838.83 225.50 L839.88 226.00 L840.93 226.50 L841.92 227.00 L842.83 227.50 L843.65 228.00 L844.43 228.50 L845.15 229.00 L845.81 229.50 L846.40 230.00 L846.96 230.50 L847.51 231.00 L848.00 231.50 L848.41 232.00 L848.67 232.50 L848.81 233.00 L848.92 233.50 L849.02 234.00 L849.08 234.50 L849.10 235.00 L849.04 235.50 L848.90 236.00 L848.68 236.50 L848.43 237.00 L848.15 237.50 L847.86 238.00 L847.49 238.50 L847.04 239.00 L846.55 239.50 L846.00 240.00 L845.35 240.50 L844.57 241.00 L843.72 241.50 L842.83 242.00 L841.97 242.50 L841.13 243.00 L840.27 243.50 L839.41 244.00 L838.58 244.50 L837.80 245.00 L837.06 245.50 L836.34 246.00 L835.66 246.50 L835.03 247.00 L834.50 247.50 L834.04 248.00 L833.61 248.50 L833.23 249.00 L832.89 249.50 L832.60 250.00 L832.35 250.50 L832.13 251.00 L831.93 251.50 L831.76 252.00 L831.60 252.50 L831.47 253.00 L831.36 253.50 L831.26 254.00 L831.15 254.50 L831.00 255.00 L830.80 255.50 L830.54 256.00 L830.25 256.50 L829.93 257.00 L829.60 257.50 L829.25 258.00 L828.85 258.50 L828.44 259.00 L828.01 259.50 L827.60 260.00 L827.20 260.50 L826.81 261.00 L826.41 261.50 L826.00 262.00 L825.59 262.50 L825.15 263.00 L824.68 263.50 L824.21 264.00 L823.75 264.50 L823.30 265.00 L822.88 265.50 L822.48 266.00 L822.09 266.50 L821.70 267.00 L821.29 267.50 L820.85 268.00 L820.39 268.50 L819.92 269.00 L819.45 269.50 L819.00 270.00 L818.56 270.50 L818.12 271.00 L817.68 271.50 L817.27 272.00 L816.88 272.50 L816.50 273.00 L816.14 273.50 L815.79 274.00 L815.47 274.50 L815.20 275.00 L814.96 275.50 L814.73 276.00 L814.54 276.50 L814.40 277.00 L814.30 277.50 L814.21 278.00 L814.15 278.50 L814.10 279.00 L814.07 279.50 L814.04 280.00 L814.03 280.50 L814.03 281.00 L814.02 281.50 L814.02 282.00 L814.01 282.50 L814.01 283.00 L814.01 283.50 L814.01 284.00 L814.00 284.50 L814.00 285.00 L814.00 285.50 L814.00 286.00 L814.00 286.50 L814.00 287.00 L814.00 287.40 L814.00 287.00 L814.00 286.50 L814.00 286.00 L814.00 285.50 L814.00 285.00 L814.00 284.50 L813.99 284.00 L813.99 283.50 L813.99 283.00 L813.99 282.50 L813.98 282.00 L813.98 281.50 L813.97 281.00 L813.97 280.50 L813.96 280.00 L813.93 279.50 L813.90 279.00 L813.85 278.50 L813.79 278.00 L813.70 277.50 L813.60 277.00 L813.46 276.50 L813.27 276.00 L813.04 275.50 L812.80 275.00 L812.53 274.50 L812.21 274.00 L811.86 273.50 L811.50 273.00 L811.12 272.50 L810.73 272.00 L810.32 271.50 L809.88 271.00 L809.44 270.50 L809.00 270.00 L808.55 269.50 L808.08 269.00 L807.61 268.50 L807.15 268.00 L806.71 267.50 L806.30 267.00 L805.91 266.50 L805.52 266.00 L805.12 265.50 L804.70 265.00 L804.25 264.50 L803.79 264.00 L803.32 263.50 L802.85 263.00 L802.41 262.50 L802.00 262.00 L801.59 261.50 L801.19 261.00 L800.80 260.50 L800.40 260.00 L799.99 259.50 L799.56 259.00 L799.15 258.50 L798.75 258.00 L798.40 257.50 L798.07 257.00 L797.75 256.50 L797.46 256.00 L797.20 255.50 L797.00 255.00 L796.85 254.50 L796.74 254.00 L796.64 253.50 L796.53 253.00 L796.40 252.50 L796.24 252.00 L796.07 251.50 L795.87 251.00 L795.65 250.50 L795.40 250.00 L795.11 249.50 L794.77 249.00 L794.39 248.50 L793.96 248.00 L793.50 247.50 L792.97 247.00 L792.34 246.50 L791.66 246.00 L790.94 245.50 L790.20 245.00 L789.42 244.50 L788.59 244.00 L787.73 243.50 L786.87 243.00 L786.03 242.50 L785.17 242.00 L784.28 241.50 L783.43 241.00 L782.65 240.50 L782.00 240.00 L781.45 239.50 L780.96 239.00 L780.51 238.50 L780.14 238.00 L779.85 237.50 L779.57 237.00 L779.32 236.50 L779.10 236.00 L778.96 235.50 L778.90 235.00 L778.92 234.50 L778.98 234.00 L779.08 233.50 L779.19 233.00 L779.33 232.50 L779.59 232.00 L780.00 231.50 L780.49 231.00 L781.04 230.50 L781.60 230.00 L782.19 229.50 L782.85 229.00 L783.57 228.50 L784.35 228.00 L785.17 227.50 L786.08 227.00 L787.07 226.50 L788.12 226.00 L789.17 225.50 L790.20 225.00 L791.25 224.50 L792.29 224.00 L793.15 223.50 L793.88 223.00 L794.53 222.50 L795.11 222.00 L795.62 221.50 L796.07 221.00 L796.52 220.50 L796.92 220.00 L797.23 219.50 L797.40 219.00 L797.47 218.50 L797.53 218.00 L797.58 217.50 L797.60 217.00 L797.58 216.50 L797.49 216.00 L797.32 215.50 L797.12 215.00 L796.90 214.50 L796.61 214.00 L796.21 213.50 L795.76 213.00 L795.28 212.50 L794.82 212.00 L794.30 211.50 L793.76 211.00 L793.25 210.50 L792.80 210.00 L792.39 209.50 L791.99 209.00 L791.64 208.50 L791.37 208.00 L791.21 207.50 L791.06 207.00 L790.95 206.50 L790.90 206.00 L790.93 205.50 L791.02 205.00 L791.15 204.50 L791.30 204.00 L791.50 203.50 L791.78 203.00 L792.10 202.50 L792.49 202.00 L792.96 201.50 L793.50 201.00 L794.12 200.50 L794.84 200.00 L795.60 199.50 L796.41 199.00 L797.29 198.50 L798.20 198.00 L799.21 197.50 L800.27 197.00 L801.20 196.50 L801.92 196.00 L802.56 195.50 L803.20 195.00 L803.93 194.50 L804.70 194.00 L805.42 193.50 L806.00 193.00 L806.44 192.50 L806.81 192.00 L807.15 191.50 L807.50 191.00 L807.90 190.50 L808.30 190.00 L808.69 189.50 L809.00 189.00 L809.26 188.50 L809.51 188.00 L809.74 187.50 L809.94 187.00 L810.09 186.50 L810.20 186.00 L810.28 185.50 L810.35 185.00 L810.41 184.50 L810.46 184.00 L810.49 183.50 L810.50 183.00 L810.47 182.50 L810.40 182.00 L810.29 181.50 L810.15 181.00 L809.98 180.50 L809.80 180.00 L809.53 179.50 L809.14 179.00 L808.68 178.50 L808.20 178.00 L807.70 177.50 L807.14 177.00 L806.56 176.50 L806.00 176.00 L805.42 175.50 L804.84 175.00 L804.40 174.50 L804.09 174.00 L803.85 173.50 L803.70 173.00 L803.62 172.50 L803.56 172.00 L803.52 171.50 L803.50 171.00 L803.52 170.50 L803.58 170.00 L803.67 169.50 L803.77 169.00 L803.89 168.50 L804.00 168.00 L804.12 167.50 L804.27 167.00 L804.43 166.50 L804.61 166.00 L804.80 165.50 L805.00 165.00 L805.21 164.50 L805.44 164.00 L805.69 163.50 L805.95 163.00 L806.22 162.50 L806.50 162.00 L806.80 161.50 L807.12 161.00 L807.46 160.50 L807.81 160.00 L808.16 159.50 L808.50 159.00 L808.84 158.50 L809.18 158.00 L809.52 157.50 L809.86 157.00 L810.19 156.50 L810.50 156.00 L810.82 155.50 L811.14 155.00 L811.46 154.50 L811.75 154.00 L812.00 153.50 L812.20 153.00 L812.37 152.50 L812.53 152.00 L812.67 151.50 L812.79 151.00 L812.87 150.50 L812.90 150.00 L812.88 149.50 L812.84 149.00 L812.77 148.50 L812.69 148.00 L812.60 147.50 L812.50 147.00 L812.39 146.50 L812.24 146.00 L812.08 145.50 L811.89 145.00 L811.70 144.50 L811.50 144.00 L811.29 143.50 L811.06 143.00 L810.81 142.50 L810.55 142.00 L810.28 141.50 L810.00 141.00 L809.65 140.50 L809.25 140.00 L808.90 139.50 L808.70 139.00 L808.62 138.50 L808.56 138.00 L808.51 137.50 L808.50 137.00 L808.51 136.50 L808.53 136.00 L808.56 135.50 L808.61 135.00 L808.65 134.50 L808.70 134.00 L808.76 133.50 L808.83 133.00 L808.91 132.50 L809.00 132.00 L809.10 131.50 L809.20 131.00 L809.31 130.50 L809.43 130.00 L809.57 129.50 L809.71 129.00 L809.85 128.50 L810.00 128.00 L810.15 127.50 L810.31 127.00 L810.47 126.50 L810.64 126.00 L810.82 125.50 L811.00 125.00 L811.19 124.50 L811.39 124.00 L811.60 123.50 L811.81 123.00 L812.01 122.50 L812.20 122.00 L812.39 121.50 L812.58 121.00 L812.77 120.50 L812.94 120.00 L813.09 119.50 L813.20 119.00 L813.29 118.50 L813.37 118.00 L813.44 117.50 L813.51 117.00 L813.57 116.50 L813.62 116.00 L813.66 115.50 L813.70 115.00 L813.73 114.50 L813.76 114.00 L813.79 113.50 L813.81 113.00 L813.83 112.50 L813.85 112.00 L813.87 111.50 L813.89 111.00 L813.91 110.50 L813.93 110.00 L813.95 109.50 L813.97 109.00 L813.98 108.50Z" fill="#fca0a0" stroke="none"/>
<line x1="792.60" y1="203.30" x2="835.40" y2="203.30" stroke="#1c1c30" stroke-opacity="0.9" stroke-width="1.31" stroke-dasharray="1.25 2.23"/>
<line x1="780.91" y1="231.60" x2="847.09" y2="231.60" stroke="#111" stroke-width="1.74" stroke-dasharray="3.38 2.67"/>
<line x1="781.77" y1="238.80" x2="846.23" y2="238.80" stroke="#1c1c30" stroke-opacity="0.9" stroke-width="1.31" stroke-dasharray="1.25 2.23"/>
<path d="M814.00 108.00 L814.02 108.50 L814.03 109.00 L814.05 109.50 L814.07 110.00 L814.09 110.50 L814.11 111.00 L814.13 111.50 L814.15 112.00 L814.17 112.50 L814.19 113.00 L814.21 113.50 L814.24 114.00 L814.27 114.50 L814.30 115.00 L814.34 115.50 L814.38 116.00 L814.43 116.50 L814.49 117.00 L814.56 117.50 L814.63 118.00 L814.71 118.50 L814.80 119.00 L814.91 119.50 L815.06 120.00 L815.23 120.50 L815.42 121.00 L815.61 121.50 L815.80 122.00 L815.99 122.50 L816.19 123.00 L816.40 123.50 L816.61 124.00 L816.81 124.50 L817.00 125.00 L817.18 125.50 L817.36 126.00 L817.53 126.50 L817.69 127.00 L817.85 127.50 L818.00 128.00 L818.15 128.50 L818.29 129.00 L818.43 129.50 L818.57 130.00 L818.69 130.50 L818.80 131.00 L818.90 131.50 L819.00 132.00 L819.09 132.50 L819.17 133.00 L819.24 133.50 L819.30 134.00 L819.35 134.50 L819.39 135.00 L819.44 135.50 L819.47 136.00 L819.49 136.50 L819.50 137.00 L819.49 137.50 L819.44 138.00 L819.38 138.50 L819.30 139.00 L819.10 139.50 L818.75 140.00 L818.35 140.50 L818.00 141.00 L817.72 141.50 L817.45 142.00 L817.19 142.50 L816.94 143.00 L816.71 143.50 L816.50 144.00 L816.30 144.50 L816.11 145.00 L815.92 145.50 L815.76 146.00 L815.61 146.50 L815.50 147.00 L815.40 147.50 L815.31 148.00 L815.23 148.50 L815.16 149.00 L815.12 149.50 L815.10 150.00 L815.13 150.50 L815.21 151.00 L815.33 151.50 L815.47 152.00 L815.63 152.50 L815.80 153.00 L816.00 153.50 L816.25 154.00 L816.54 154.50 L816.86 155.00 L817.18 155.50 L817.50 156.00 L817.81 156.50 L818.14 157.00 L818.48 157.50 L818.82 158.00 L819.16 158.50 L819.50 159.00 L819.84 159.50 L820.19 160.00 L820.54 160.50 L820.88 161.00 L821.20 161.50 L821.50 162.00 L821.78 162.50 L822.05 163.00 L822.31 163.50 L822.56 164.00 L822.79 164.50 L823.00 165.00 L823.20 165.50 L823.39 166.00 L823.57 166.50 L823.73 167.00 L823.88 167.50 L824.00 168.00 L824.11 168.50 L824.23 169.00 L824.33 169.50 L824.42 170.00 L824.48 170.50 L824.50 171.00 L824.48 171.50 L824.44 172.00 L824.38 172.50 L824.30 173.00 L824.15 173.50 L823.91 174.00 L823.60 174.50 L823.16 175.00 L822.58 175.50 L822.00 176.00 L821.44 176.50 L820.86 177.00 L820.30 177.50 L819.80 178.00 L819.32 178.50 L818.86 179.00 L818.47 179.50 L818.20 180.00 L818.02 180.50 L817.85 181.00 L817.71 181.50 L817.60 182.00 L817.53 182.50 L817.50 183.00 L817.51 183.50 L817.54 184.00 L817.59 184.50 L817.65 185.00 L817.72 185.50 L817.80 186.00 L817.91 186.50 L818.06 187.00 L818.26 187.50 L818.49 188.00 L818.74 188.50 L819.00 189.00 L819.31 189.50 L819.70 190.00 L820.10 190.50 L820.50 191.00 L820.85 191.50 L821.19 192.00 L821.56 192.50 L822.00 193.00 L822.58 193.50 L823.30 194.00 L824.07 194.50 L824.80 195.00 L825.44 195.50 L826.08 196.00 L826.80 196.50 L827.73 197.00 L828.79 197.50 L829.80 198.00 L830.71 198.50 L831.59 199.00 L832.40 199.50 L833.16 200.00 L833.88 200.50 L834.50 201.00 L835.04 201.50 L835.51 202.00 L835.90 202.50 L836.22 203.00 L836.50 203.50 L836.70 204.00 L836.85 204.50 L836.98 205.00 L837.07 205.50 L837.10 206.00 L837.05 206.50 L836.94 207.00 L836.79 207.50 L836.63 208.00 L836.36 208.50 L836.01 209.00 L835.61 209.50 L835.20 210.00 L834.75 210.50 L834.24 211.00 L833.70 211.50 L833.18 212.00 L832.72 212.50 L832.24 213.00 L831.79 213.50 L831.39 214.00 L831.10 214.50 L830.88 215.00 L830.68 215.50 L830.51 216.00 L830.42 216.50 L830.40 217.00 L830.42 217.50 L830.47 218.00 L830.53 218.50 L830.60 219.00 L830.77 219.50 L831.08 220.00 L831.48 220.50 L831.93 221.00 L832.38 221.50 L832.89 222.00 L833.47 222.50 L834.12 223.00 L834.85 223.50 L835.71 224.00 L836.75 224.50 L837.80 225.00 L838.83 225.50 L839.88 226.00 L840.93 226.50 L841.92 227.00 L842.83 227.50 L843.65 228.00 L844.43 228.50 L845.15 229.00 L845.81 229.50 L846.40 230.00 L846.96 230.50 L847.51 231.00 L848.00 231.50 L848.41 232.00 L848.67 232.50 L848.81 233.00 L848.92 233.50 L849.02 234.00 L849.08 234.50 L849.10 235.00 L849.04 235.50 L848.90 236.00 L848.68 236.50 L848.43 237.00 L848.15 237.50 L847.86 238.00 L847.49 238.50 L847.04 239.00 L846.55 239.50 L846.00 240.00 L845.35 240.50 L844.57 241.00 L843.72 241.50 L842.83 242.00 L841.97 242.50 L841.13 243.00 L840.27 243.50 L839.41 244.00 L838.58 244.50 L837.80 245.00 L837.06 245.50 L836.34 246.00 L835.66 246.50 L835.03 247.00 L834.50 247.50 L834.04 248.00 L833.61 248.50 L833.23 249.00 L832.89 249.50 L832.60 250.00 L832.35 250.50 L832.13 251.00 L831.93 251.50 L831.76 252.00 L831.60 252.50 L831.47 253.00 L831.36 253.50 L831.26 254.00 L831.15 254.50 L831.00 255.00 L830.80 255.50 L830.54 256.00 L830.25 256.50 L829.93 257.00 L829.60 257.50 L829.25 258.00 L828.85 258.50 L828.44 259.00 L828.01 259.50 L827.60 260.00 L827.20 260.50 L826.81 261.00 L826.41 261.50 L826.00 262.00 L825.59 262.50 L825.15 263.00 L824.68 263.50 L824.21 264.00 L823.75 264.50 L823.30 265.00 L822.88 265.50 L822.48 266.00 L822.09 266.50 L821.70 267.00 L821.29 267.50 L820.85 268.00 L820.39 268.50 L819.92 269.00 L819.45 269.50 L819.00 270.00 L818.56 270.50 L818.12 271.00 L817.68 271.50 L817.27 272.00 L816.88 272.50 L816.50 273.00 L816.14 273.50 L815.79 274.00 L815.47 274.50 L815.20 275.00 L814.96 275.50 L814.73 276.00 L814.54 276.50 L814.40 277.00 L814.30 277.50 L814.21 278.00 L814.15 278.50 L814.10 279.00 L814.07 279.50 L814.04 280.00 L814.03 280.50 L814.03 281.00 L814.02 281.50 L814.02 282.00 L814.01 282.50 L814.01 283.00 L814.01 283.50 L814.01 284.00 L814.00 284.50 L814.00 285.00 L814.00 285.50 L814.00 286.00 L814.00 286.50 L814.00 287.00 L814.00 287.40 L814.00 287.00 L814.00 286.50 L814.00 286.00 L814.00 285.50 L814.00 285.00 L814.00 284.50 L813.99 284.00 L813.99 283.50 L813.99 283.00 L813.99 282.50 L813.98 282.00 L813.98 281.50 L813.97 281.00 L813.97 280.50 L813.96 280.00 L813.93 279.50 L813.90 279.00 L813.85 278.50 L813.79 278.00 L813.70 277.50 L813.60 277.00 L813.46 276.50 L813.27 276.00 L813.04 275.50 L812.80 275.00 L812.53 274.50 L812.21 274.00 L811.86 273.50 L811.50 273.00 L811.12 272.50 L810.73 272.00 L810.32 271.50 L809.88 271.00 L809.44 270.50 L809.00 270.00 L808.55 269.50 L808.08 269.00 L807.61 268.50 L807.15 268.00 L806.71 267.50 L806.30 267.00 L805.91 266.50 L805.52 266.00 L805.12 265.50 L804.70 265.00 L804.25 264.50 L803.79 264.00 L803.32 263.50 L802.85 263.00 L802.41 262.50 L802.00 262.00 L801.59 261.50 L801.19 261.00 L800.80 260.50 L800.40 260.00 L799.99 259.50 L799.56 259.00 L799.15 258.50 L798.75 258.00 L798.40 257.50 L798.07 257.00 L797.75 256.50 L797.46 256.00 L797.20 255.50 L797.00 255.00 L796.85 254.50 L796.74 254.00 L796.64 253.50 L796.53 253.00 L796.40 252.50 L796.24 252.00 L796.07 251.50 L795.87 251.00 L795.65 250.50 L795.40 250.00 L795.11 249.50 L794.77 249.00 L794.39 248.50 L793.96 248.00 L793.50 247.50 L792.97 247.00 L792.34 246.50 L791.66 246.00 L790.94 245.50 L790.20 245.00 L789.42 244.50 L788.59 244.00 L787.73 243.50 L786.87 243.00 L786.03 242.50 L785.17 242.00 L784.28 241.50 L783.43 241.00 L782.65 240.50 L782.00 240.00 L781.45 239.50 L780.96 239.00 L780.51 238.50 L780.14 238.00 L779.85 237.50 L779.57 237.00 L779.32 236.50 L779.10 236.00 L778.96 235.50 L778.90 235.00 L778.92 234.50 L778.98 234.00 L779.08 233.50 L779.19 233.00 L779.33 232.50 L779.59 232.00 L780.00 231.50 L780.49 231.00 L781.04 230.50 L781.60 230.00 L782.19 229.50 L782.85 229.00 L783.57 228.50 L784.35 228.00 L785.17 227.50 L786.08 227.00 L787.07 226.50 L788.12 226.00 L789.17 225.50 L790.20 225.00 L791.25 224.50 L792.29 224.00 L793.15 223.50 L793.88 223.00 L794.53 222.50 L795.11 222.00 L795.62 221.50 L796.07 221.00 L796.52 220.50 L796.92 220.00 L797.23 219.50 L797.40 219.00 L797.47 218.50 L797.53 218.00 L797.58 217.50 L797.60 217.00 L797.58 216.50 L797.49 216.00 L797.32 215.50 L797.12 215.00 L796.90 214.50 L796.61 214.00 L796.21 213.50 L795.76 213.00 L795.28 212.50 L794.82 212.00 L794.30 211.50 L793.76 211.00 L793.25 210.50 L792.80 210.00 L792.39 209.50 L791.99 209.00 L791.64 208.50 L791.37 208.00 L791.21 207.50 L791.06 207.00 L790.95 206.50 L790.90 206.00 L790.93 205.50 L791.02 205.00 L791.15 204.50 L791.30 204.00 L791.50 203.50 L791.78 203.00 L792.10 202.50 L792.49 202.00 L792.96 201.50 L793.50 201.00 L794.12 200.50 L794.84 200.00 L795.60 199.50 L796.41 199.00 L797.29 198.50 L798.20 198.00 L799.21 197.50 L800.27 197.00 L801.20 196.50 L801.92 196.00 L802.56 195.50 L803.20 195.00 L803.93 194.50 L804.70 194.00 L805.42 193.50 L806.00 193.00 L806.44 192.50 L806.81 192.00 L807.15 191.50 L807.50 191.00 L807.90 190.50 L808.30 190.00 L808.69 189.50 L809.00 189.00 L809.26 188.50 L809.51 188.00 L809.74 187.50 L809.94 187.00 L810.09 186.50 L810.20 186.00 L810.28 185.50 L810.35 185.00 L810.41 184.50 L810.46 184.00 L810.49 183.50 L810.50 183.00 L810.47 182.50 L810.40 182.00 L810.29 181.50 L810.15 181.00 L809.98 180.50 L809.80 180.00 L809.53 179.50 L809.14 179.00 L808.68 178.50 L808.20 178.00 L807.70 177.50 L807.14 177.00 L806.56 176.50 L806.00 176.00 L805.42 175.50 L804.84 175.00 L804.40 174.50 L804.09 174.00 L803.85 173.50 L803.70 173.00 L803.62 172.50 L803.56 172.00 L803.52 171.50 L803.50 171.00 L803.52 170.50 L803.58 170.00 L803.67 169.50 L803.77 169.00 L803.89 168.50 L804.00 168.00 L804.12 167.50 L804.27 167.00 L804.43 166.50 L804.61 166.00 L804.80 165.50 L805.00 165.00 L805.21 164.50 L805.44 164.00 L805.69 163.50 L805.95 163.00 L806.22 162.50 L806.50 162.00 L806.80 161.50 L807.12 161.00 L807.46 160.50 L807.81 160.00 L808.16 159.50 L808.50 159.00 L808.84 158.50 L809.18 158.00 L809.52 157.50 L809.86 157.00 L810.19 156.50 L810.50 156.00 L810.82 155.50 L811.14 155.00 L811.46 154.50 L811.75 154.00 L812.00 153.50 L812.20 153.00 L812.37 152.50 L812.53 152.00 L812.67 151.50 L812.79 151.00 L812.87 150.50 L812.90 150.00 L812.88 149.50 L812.84 149.00 L812.77 148.50 L812.69 148.00 L812.60 147.50 L812.50 147.00 L812.39 146.50 L812.24 146.00 L812.08 145.50 L811.89 145.00 L811.70 144.50 L811.50 144.00 L811.29 143.50 L811.06 143.00 L810.81 142.50 L810.55 142.00 L810.28 141.50 L810.00 141.00 L809.65 140.50 L809.25 140.00 L808.90 139.50 L808.70 139.00 L808.62 138.50 L808.56 138.00 L808.51 137.50 L808.50 137.00 L808.51 136.50 L808.53 136.00 L808.56 135.50 L808.61 135.00 L808.65 134.50 L808.70 134.00 L808.76 133.50 L808.83 133.00 L808.91 132.50 L809.00 132.00 L809.10 131.50 L809.20 131.00 L809.31 130.50 L809.43 130.00 L809.57 129.50 L809.71 129.00 L809.85 128.50 L810.00 128.00 L810.15 127.50 L810.31 127.00 L810.47 126.50 L810.64 126.00 L810.82 125.50 L811.00 125.00 L811.19 124.50 L811.39 124.00 L811.60 123.50 L811.81 123.00 L812.01 122.50 L812.20 122.00 L812.39 121.50 L812.58 121.00 L812.77 120.50 L812.94 120.00 L813.09 119.50 L813.20 119.00 L813.29 118.50 L813.37 118.00 L813.44 117.50 L813.51 117.00 L813.57 116.50 L813.62 116.00 L813.66 115.50 L813.70 115.00 L813.73 114.50 L813.76 114.00 L813.79 113.50 L813.81 113.00 L813.83 112.50 L813.85 112.00 L813.87 111.50 L813.89 111.00 L813.91 110.50 L813.93 110.00 L813.95 109.50 L813.97 109.00 L813.98 108.50Z" fill="none" stroke="#000" stroke-width="1.6" stroke-linejoin="round"/>
<line x1="61.40" y1="87.70" x2="61.40" y2="311.30" stroke="#000" stroke-width="2.2" /><line x1="55.00" y1="88.70" x2="61.40" y2="88.70" stroke="#000" stroke-width="2.0" /><line x1="55.00" y1="133.00" x2="61.40" y2="133.00" stroke="#000" stroke-width="2.0" /><line x1="55.00" y1="177.30" x2="61.40" y2="177.30" stroke="#000" stroke-width="2.0" /><line x1="55.00" y1="221.60" x2="61.40" y2="221.60" stroke="#000" stroke-width="2.0" /><line x1="55.00" y1="265.90" x2="61.40" y2="265.90" stroke="#000" stroke-width="2.0" /><line x1="55.00" y1="310.20" x2="61.40" y2="310.20" stroke="#000" stroke-width="2.0" /><line x1="60.30" y1="310.10" x2="394.60" y2="310.10" stroke="#000" stroke-width="2.2" /><line x1="128.00" y1="310.10" x2="128.00" y2="316.50" stroke="#000" stroke-width="2.0" /><line x1="227.50" y1="310.10" x2="227.50" y2="316.50" stroke="#000" stroke-width="2.0" /><line x1="327.20" y1="310.10" x2="327.20" y2="316.50" stroke="#000" stroke-width="2.0" /><text x="52.80" y="94.70" font-size="16.9" text-anchor="end" >200</text><text x="52.80" y="139.00" font-size="16.9" text-anchor="end" >150</text><text x="52.80" y="183.30" font-size="16.9" text-anchor="end" >100</text><text x="52.80" y="227.60" font-size="16.9" text-anchor="end" >50</text><text x="52.80" y="271.90" font-size="16.9" text-anchor="end" >0</text><text x="52.80" y="316.20" font-size="16.9" text-anchor="end" >-50</text><text x="125.90" y="334.40" font-size="16.9" text-anchor="middle" >NMs</text><text x="225.90" y="334.40" font-size="16.9" text-anchor="middle" >IMs</text><text x="325.20" y="334.40" font-size="16.9" text-anchor="middle" >PMs</text><text x="125.40" y="358.60" font-size="16.9" text-anchor="middle" >n=171</text><text x="226.50" y="358.60" font-size="16.9" text-anchor="middle" >n=164</text><text x="326.20" y="358.60" font-size="16.9" text-anchor="middle" >n=40</text><text x="232.20" y="390.10" font-size="16.9" text-anchor="middle" >CYP2C19 phenotype</text><text x="119.20" y="117.90" font-size="12.3" text-anchor="middle" >15.64 (0.34~136.12)</text><text x="235.40" y="119.20" font-size="12.3" text-anchor="middle" >24.02 (0.48~106.21)</text><text x="351.80" y="119.50" font-size="12.3" text-anchor="middle" >36.60 (1.46~111.86)</text><path d="M129.30 60.80V55.80H322.90V60.80" fill="none" stroke="#6a6a6a" stroke-width="1.15"/><path d="M124.40 97.90V93.40H222.90V97.90" fill="none" stroke="#6a6a6a" stroke-width="1.15"/><path d="M232.30 97.00V92.50H329.50V97.00" fill="none" stroke="#6a6a6a" stroke-width="1.15"/><text x="221.30" y="48.70" font-size="15.3" text-anchor="middle"><tspan font-style="italic">P</tspan>=0.001</text><text x="172.60" y="85.90" font-size="15.3" text-anchor="middle"><tspan font-style="italic">P</tspan>=0.002</text><text x="278.60" y="85.70" font-size="15.3" text-anchor="middle"><tspan font-style="italic">P</tspan>=0.021</text><text transform="translate(17.6 285.4) rotate(-90)" font-size="16.9">VRC <tspan font-style="italic">C</tspan><tspan font-size="12.0" dy="4">trough</tspan><tspan dy="-4">/D (10</tspan><tspan font-size="12.0" dy="-6.5">2</tspan><tspan dy="6.5"> kg/L)</tspan></text><text x="9.5" y="21.3" font-size="29" font-weight="bold">A</text><line x1="524.70" y1="73.00" x2="524.70" y2="316.60" stroke="#000" stroke-width="2.2" /><line x1="517.00" y1="74.10" x2="524.70" y2="74.10" stroke="#000" stroke-width="2.0" /><line x1="517.00" y1="122.37" x2="524.70" y2="122.37" stroke="#000" stroke-width="2.0" /><line x1="517.00" y1="170.65" x2="524.70" y2="170.65" stroke="#000" stroke-width="2.0" /><line x1="517.00" y1="218.92" x2="524.70" y2="218.92" stroke="#000" stroke-width="2.0" /><line x1="517.00" y1="267.20" x2="524.70" y2="267.20" stroke="#000" stroke-width="2.0" /><line x1="517.00" y1="315.47" x2="524.70" y2="315.47" stroke="#000" stroke-width="2.0" /><line x1="523.60" y1="315.30" x2="887.80" y2="315.30" stroke="#000" stroke-width="2.2" /><line x1="596.90" y1="315.30" x2="596.90" y2="322.50" stroke="#000" stroke-width="2.0" /><line x1="705.30" y1="315.30" x2="705.30" y2="322.50" stroke="#000" stroke-width="2.0" /><line x1="814.10" y1="315.30" x2="814.10" y2="322.50" stroke="#000" stroke-width="2.0" /><text x="513.80" y="80.90" font-size="18.35" text-anchor="end" >200</text><text x="513.80" y="129.17" font-size="18.35" text-anchor="end" >150</text><text x="513.80" y="177.45" font-size="18.35" text-anchor="end" >100</text><text x="513.80" y="225.72" font-size="18.35" text-anchor="end" >50</text><text x="513.80" y="274.00" font-size="18.35" text-anchor="end" >0</text><text x="513.80" y="322.27" font-size="18.35" text-anchor="end" >-50</text><text x="596.10" y="341.60" font-size="18.35" text-anchor="middle" >Grade 1</text><text x="705.50" y="341.60" font-size="18.35" text-anchor="middle" >Grade 2</text><text x="813.90" y="341.60" font-size="18.35" text-anchor="middle" >Grade 3</text><text x="597.30" y="364.50" font-size="18.35" text-anchor="middle" >n=89</text><text x="705.00" y="364.50" font-size="18.35" text-anchor="middle" >n=268</text><text x="813.60" y="364.50" font-size="18.35" text-anchor="middle" >n=18</text><text x="704.80" y="392.90" font-size="18.35" text-anchor="middle" >ALBI grade</text><text x="585.20" y="100.30" font-size="13.4" text-anchor="middle" >17.98 (0.48~111.86)</text><text x="709.90" y="100.70" font-size="13.4" text-anchor="middle" >22.31 (0.34~113.75)</text><text x="836.00" y="101.30" font-size="13.4" text-anchor="middle" >36.80 (7.75~136.12)</text><path d="M598.20 38.50V33.40H809.40V38.50" fill="none" stroke="#6a6a6a" stroke-width="1.15"/><path d="M588.10 78.00V72.80H695.30V78.00" fill="none" stroke="#6a6a6a" stroke-width="1.15"/><path d="M706.60 77.10V72.00H813.00V77.10" fill="none" stroke="#6a6a6a" stroke-width="1.15"/><text x="697.40" y="24.90" font-size="16.7" text-anchor="middle"><tspan font-style="italic">P</tspan>&lt;0.001</text><text x="640.30" y="64.60" font-size="16.7" text-anchor="middle"><tspan font-style="italic">P</tspan>=0.113</text><text x="757.40" y="64.60" font-size="16.7" text-anchor="middle"><tspan font-style="italic">P</tspan>=0.001</text><text transform="translate(476.0 287.6) rotate(-90)" font-size="18.35">VRC <tspan font-style="italic">C</tspan><tspan font-size="12.9" dy="4.3">trough</tspan><tspan dy="-4.3">/D (10</tspan><tspan font-size="12.9" dy="-7">2</tspan><tspan dy="7"> kg/L)</tspan></text><text x="462.5" y="21.2" font-size="29" font-weight="bold">B</text>
</svg>
</body></html>
